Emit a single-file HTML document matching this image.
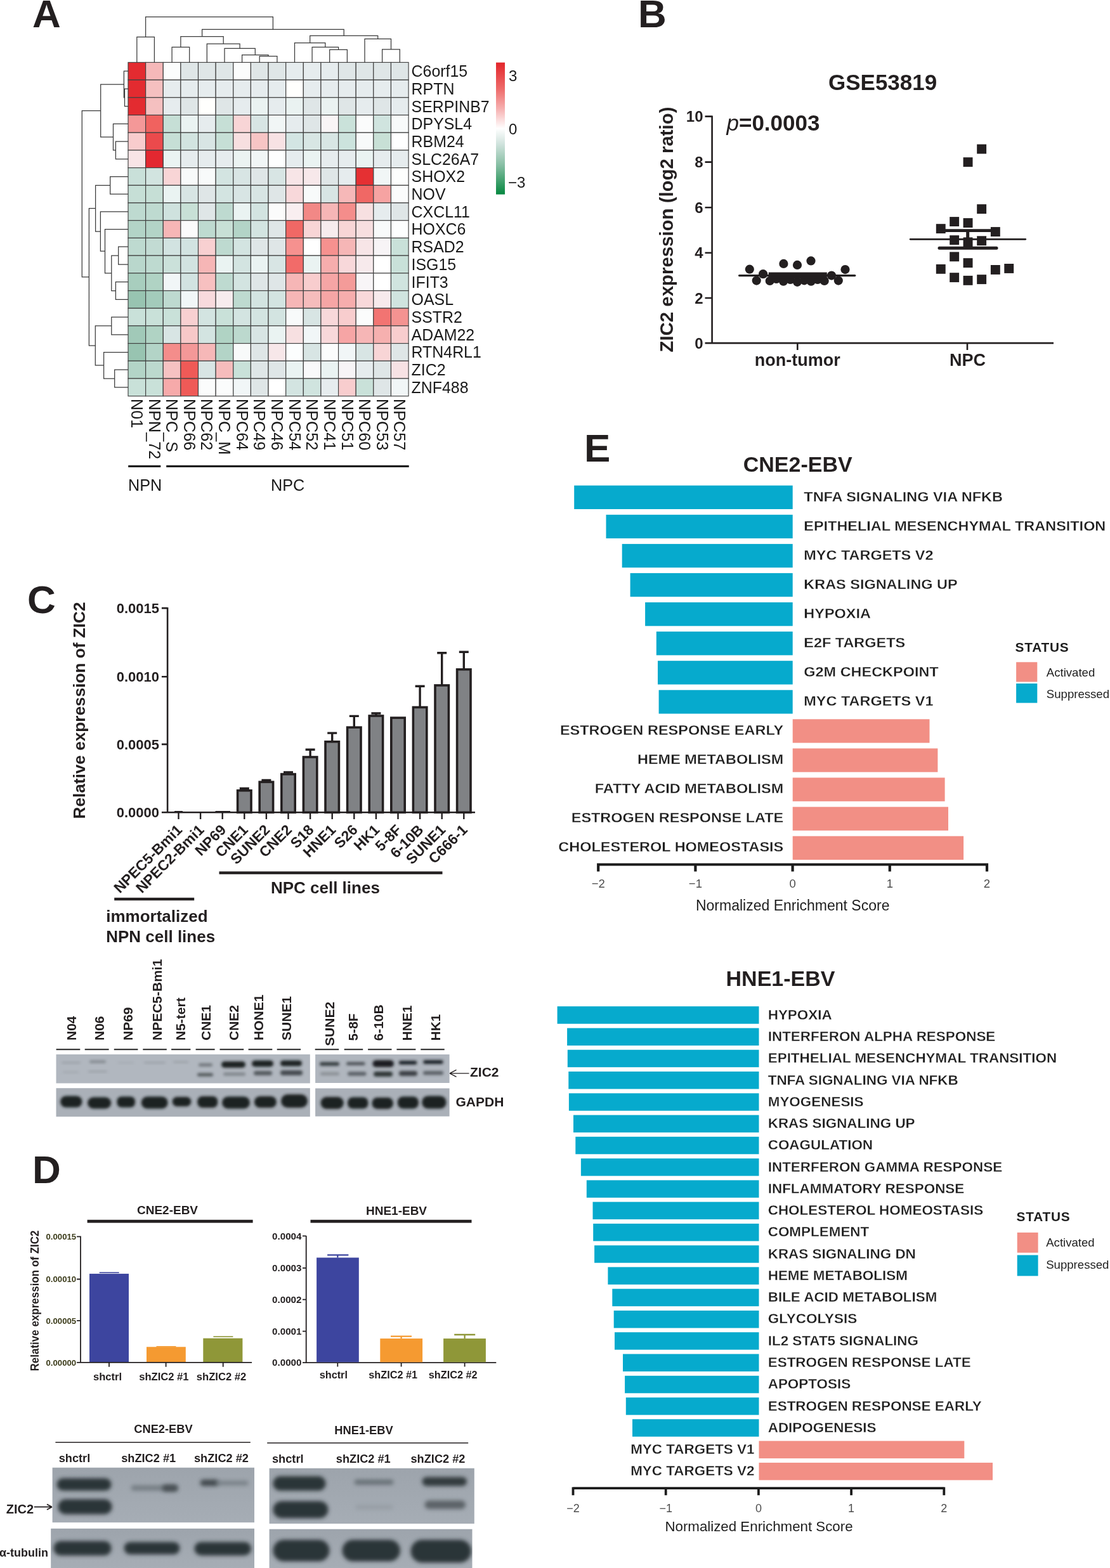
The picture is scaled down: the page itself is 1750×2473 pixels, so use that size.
<!DOCTYPE html>
<html><head><meta charset="utf-8"><title>Figure</title>
<style>html,body{margin:0;padding:0;background:#fff;}svg{display:block;}
text{font-family:"Liberation Sans", Arial, Helvetica, sans-serif;}</style></head><body>
<svg width="1750" height="2473" viewBox="0 0 1750 2473">
<rect x="0" y="0" width="1750" height="2473" fill="#ffffff"/>
<g id="A">
<text x="51.0" y="42.5" font-size="62" font-weight="bold" text-anchor="start" fill="#231f20" >A</text>
<rect x="202.00" y="98.40" width="27.63" height="27.70" fill="#e32b30" stroke="#404040" stroke-width="1.15"/>
<rect x="229.63" y="98.40" width="27.63" height="27.70" fill="#f5b8b9" stroke="#404040" stroke-width="1.15"/>
<rect x="257.26" y="98.40" width="27.63" height="27.70" fill="#fbfcfc" stroke="#404040" stroke-width="1.15"/>
<rect x="284.89" y="98.40" width="27.63" height="27.70" fill="#dfe6e7" stroke="#404040" stroke-width="1.15"/>
<rect x="312.52" y="98.40" width="27.63" height="27.70" fill="#dfe6e7" stroke="#404040" stroke-width="1.15"/>
<rect x="340.15" y="98.40" width="27.63" height="27.70" fill="#dfe6e7" stroke="#404040" stroke-width="1.15"/>
<rect x="367.78" y="98.40" width="27.63" height="27.70" fill="#fbfcfc" stroke="#404040" stroke-width="1.15"/>
<rect x="395.41" y="98.40" width="27.63" height="27.70" fill="#dfe6e7" stroke="#404040" stroke-width="1.15"/>
<rect x="423.04" y="98.40" width="27.63" height="27.70" fill="#dfe6e7" stroke="#404040" stroke-width="1.15"/>
<rect x="450.67" y="98.40" width="27.63" height="27.70" fill="#e6ecee" stroke="#404040" stroke-width="1.15"/>
<rect x="478.30" y="98.40" width="27.63" height="27.70" fill="#e6ecee" stroke="#404040" stroke-width="1.15"/>
<rect x="505.93" y="98.40" width="27.63" height="27.70" fill="#e6ecee" stroke="#404040" stroke-width="1.15"/>
<rect x="533.56" y="98.40" width="27.63" height="27.70" fill="#dfe6e7" stroke="#404040" stroke-width="1.15"/>
<rect x="561.19" y="98.40" width="27.63" height="27.70" fill="#dfe6e7" stroke="#404040" stroke-width="1.15"/>
<rect x="588.82" y="98.40" width="27.63" height="27.70" fill="#dfe6e7" stroke="#404040" stroke-width="1.15"/>
<rect x="616.45" y="98.40" width="27.63" height="27.70" fill="#dfe6e7" stroke="#404040" stroke-width="1.15"/>
<rect x="202.00" y="126.10" width="27.63" height="27.70" fill="#e32b30" stroke="#404040" stroke-width="1.15"/>
<rect x="229.63" y="126.10" width="27.63" height="27.70" fill="#f5c0c0" stroke="#404040" stroke-width="1.15"/>
<rect x="257.26" y="126.10" width="27.63" height="27.70" fill="#e6ecee" stroke="#404040" stroke-width="1.15"/>
<rect x="284.89" y="126.10" width="27.63" height="27.70" fill="#e6ecee" stroke="#404040" stroke-width="1.15"/>
<rect x="312.52" y="126.10" width="27.63" height="27.70" fill="#e6ecee" stroke="#404040" stroke-width="1.15"/>
<rect x="340.15" y="126.10" width="27.63" height="27.70" fill="#e6ecee" stroke="#404040" stroke-width="1.15"/>
<rect x="367.78" y="126.10" width="27.63" height="27.70" fill="#e6ecee" stroke="#404040" stroke-width="1.15"/>
<rect x="395.41" y="126.10" width="27.63" height="27.70" fill="#e6ecee" stroke="#404040" stroke-width="1.15"/>
<rect x="423.04" y="126.10" width="27.63" height="27.70" fill="#e6ecee" stroke="#404040" stroke-width="1.15"/>
<rect x="450.67" y="126.10" width="27.63" height="27.70" fill="#fffffd" stroke="#404040" stroke-width="1.15"/>
<rect x="478.30" y="126.10" width="27.63" height="27.70" fill="#e6ecee" stroke="#404040" stroke-width="1.15"/>
<rect x="505.93" y="126.10" width="27.63" height="27.70" fill="#e6ecee" stroke="#404040" stroke-width="1.15"/>
<rect x="533.56" y="126.10" width="27.63" height="27.70" fill="#e6ecee" stroke="#404040" stroke-width="1.15"/>
<rect x="561.19" y="126.10" width="27.63" height="27.70" fill="#e6ecee" stroke="#404040" stroke-width="1.15"/>
<rect x="588.82" y="126.10" width="27.63" height="27.70" fill="#e6ecee" stroke="#404040" stroke-width="1.15"/>
<rect x="616.45" y="126.10" width="27.63" height="27.70" fill="#e6ecee" stroke="#404040" stroke-width="1.15"/>
<rect x="202.00" y="153.80" width="27.63" height="27.70" fill="#e32b30" stroke="#404040" stroke-width="1.15"/>
<rect x="229.63" y="153.80" width="27.63" height="27.70" fill="#f5c0c0" stroke="#404040" stroke-width="1.15"/>
<rect x="257.26" y="153.80" width="27.63" height="27.70" fill="#e6ecee" stroke="#404040" stroke-width="1.15"/>
<rect x="284.89" y="153.80" width="27.63" height="27.70" fill="#dfe6e7" stroke="#404040" stroke-width="1.15"/>
<rect x="312.52" y="153.80" width="27.63" height="27.70" fill="#fffffd" stroke="#404040" stroke-width="1.15"/>
<rect x="340.15" y="153.80" width="27.63" height="27.70" fill="#dfe6e7" stroke="#404040" stroke-width="1.15"/>
<rect x="367.78" y="153.80" width="27.63" height="27.70" fill="#e6ecee" stroke="#404040" stroke-width="1.15"/>
<rect x="395.41" y="153.80" width="27.63" height="27.70" fill="#eaf2f1" stroke="#404040" stroke-width="1.15"/>
<rect x="423.04" y="153.80" width="27.63" height="27.70" fill="#e6ecee" stroke="#404040" stroke-width="1.15"/>
<rect x="450.67" y="153.80" width="27.63" height="27.70" fill="#eaf2f1" stroke="#404040" stroke-width="1.15"/>
<rect x="478.30" y="153.80" width="27.63" height="27.70" fill="#dfe6e7" stroke="#404040" stroke-width="1.15"/>
<rect x="505.93" y="153.80" width="27.63" height="27.70" fill="#eaf2f1" stroke="#404040" stroke-width="1.15"/>
<rect x="533.56" y="153.80" width="27.63" height="27.70" fill="#dfe6e7" stroke="#404040" stroke-width="1.15"/>
<rect x="561.19" y="153.80" width="27.63" height="27.70" fill="#e6ecee" stroke="#404040" stroke-width="1.15"/>
<rect x="588.82" y="153.80" width="27.63" height="27.70" fill="#dfe6e7" stroke="#404040" stroke-width="1.15"/>
<rect x="616.45" y="153.80" width="27.63" height="27.70" fill="#e6ecee" stroke="#404040" stroke-width="1.15"/>
<rect x="202.00" y="181.50" width="27.63" height="27.70" fill="#f49898" stroke="#404040" stroke-width="1.15"/>
<rect x="229.63" y="181.50" width="27.63" height="27.70" fill="#f0625f" stroke="#404040" stroke-width="1.15"/>
<rect x="257.26" y="181.50" width="27.63" height="27.70" fill="#c6dfd6" stroke="#404040" stroke-width="1.15"/>
<rect x="284.89" y="181.50" width="27.63" height="27.70" fill="#eaf3f2" stroke="#404040" stroke-width="1.15"/>
<rect x="312.52" y="181.50" width="27.63" height="27.70" fill="#e6ecee" stroke="#404040" stroke-width="1.15"/>
<rect x="340.15" y="181.50" width="27.63" height="27.70" fill="#c6dfd6" stroke="#404040" stroke-width="1.15"/>
<rect x="367.78" y="181.50" width="27.63" height="27.70" fill="#f8d5d6" stroke="#404040" stroke-width="1.15"/>
<rect x="395.41" y="181.50" width="27.63" height="27.70" fill="#d8e5e4" stroke="#404040" stroke-width="1.15"/>
<rect x="423.04" y="181.50" width="27.63" height="27.70" fill="#f1f6f6" stroke="#404040" stroke-width="1.15"/>
<rect x="450.67" y="181.50" width="27.63" height="27.70" fill="#e6ecee" stroke="#404040" stroke-width="1.15"/>
<rect x="478.30" y="181.50" width="27.63" height="27.70" fill="#dfe6e7" stroke="#404040" stroke-width="1.15"/>
<rect x="505.93" y="181.50" width="27.63" height="27.70" fill="#f9f5f6" stroke="#404040" stroke-width="1.15"/>
<rect x="533.56" y="181.50" width="27.63" height="27.70" fill="#cae2da" stroke="#404040" stroke-width="1.15"/>
<rect x="561.19" y="181.50" width="27.63" height="27.70" fill="#fbfcfc" stroke="#404040" stroke-width="1.15"/>
<rect x="588.82" y="181.50" width="27.63" height="27.70" fill="#d0e4df" stroke="#404040" stroke-width="1.15"/>
<rect x="616.45" y="181.50" width="27.63" height="27.70" fill="#f8fafa" stroke="#404040" stroke-width="1.15"/>
<rect x="202.00" y="209.20" width="27.63" height="27.70" fill="#f8cccd" stroke="#404040" stroke-width="1.15"/>
<rect x="229.63" y="209.20" width="27.63" height="27.70" fill="#eb4a4c" stroke="#404040" stroke-width="1.15"/>
<rect x="257.26" y="209.20" width="27.63" height="27.70" fill="#c6dfd6" stroke="#404040" stroke-width="1.15"/>
<rect x="284.89" y="209.20" width="27.63" height="27.70" fill="#d2e4e0" stroke="#404040" stroke-width="1.15"/>
<rect x="312.52" y="209.20" width="27.63" height="27.70" fill="#d8e5e4" stroke="#404040" stroke-width="1.15"/>
<rect x="340.15" y="209.20" width="27.63" height="27.70" fill="#c6dfd6" stroke="#404040" stroke-width="1.15"/>
<rect x="367.78" y="209.20" width="27.63" height="27.70" fill="#f7dfe0" stroke="#404040" stroke-width="1.15"/>
<rect x="395.41" y="209.20" width="27.63" height="27.70" fill="#f7c5c5" stroke="#404040" stroke-width="1.15"/>
<rect x="423.04" y="209.20" width="27.63" height="27.70" fill="#f7e2e4" stroke="#404040" stroke-width="1.15"/>
<rect x="450.67" y="209.20" width="27.63" height="27.70" fill="#d3e5e3" stroke="#404040" stroke-width="1.15"/>
<rect x="478.30" y="209.20" width="27.63" height="27.70" fill="#d8e6e4" stroke="#404040" stroke-width="1.15"/>
<rect x="505.93" y="209.20" width="27.63" height="27.70" fill="#d8e6e4" stroke="#404040" stroke-width="1.15"/>
<rect x="533.56" y="209.20" width="27.63" height="27.70" fill="#cce3dd" stroke="#404040" stroke-width="1.15"/>
<rect x="561.19" y="209.20" width="27.63" height="27.70" fill="#f8fafa" stroke="#404040" stroke-width="1.15"/>
<rect x="588.82" y="209.20" width="27.63" height="27.70" fill="#c8e0d6" stroke="#404040" stroke-width="1.15"/>
<rect x="616.45" y="209.20" width="27.63" height="27.70" fill="#ffffff" stroke="#404040" stroke-width="1.15"/>
<rect x="202.00" y="236.90" width="27.63" height="27.70" fill="#f8e4e6" stroke="#404040" stroke-width="1.15"/>
<rect x="229.63" y="236.90" width="27.63" height="27.70" fill="#e32830" stroke="#404040" stroke-width="1.15"/>
<rect x="257.26" y="236.90" width="27.63" height="27.70" fill="#eaf3f2" stroke="#404040" stroke-width="1.15"/>
<rect x="284.89" y="236.90" width="27.63" height="27.70" fill="#e6ecee" stroke="#404040" stroke-width="1.15"/>
<rect x="312.52" y="236.90" width="27.63" height="27.70" fill="#e6ecee" stroke="#404040" stroke-width="1.15"/>
<rect x="340.15" y="236.90" width="27.63" height="27.70" fill="#e6ecee" stroke="#404040" stroke-width="1.15"/>
<rect x="367.78" y="236.90" width="27.63" height="27.70" fill="#ebf3f2" stroke="#404040" stroke-width="1.15"/>
<rect x="395.41" y="236.90" width="27.63" height="27.70" fill="#f1f6f6" stroke="#404040" stroke-width="1.15"/>
<rect x="423.04" y="236.90" width="27.63" height="27.70" fill="#fdfefe" stroke="#404040" stroke-width="1.15"/>
<rect x="450.67" y="236.90" width="27.63" height="27.70" fill="#e6ecee" stroke="#404040" stroke-width="1.15"/>
<rect x="478.30" y="236.90" width="27.63" height="27.70" fill="#eaf3f2" stroke="#404040" stroke-width="1.15"/>
<rect x="505.93" y="236.90" width="27.63" height="27.70" fill="#e6ecee" stroke="#404040" stroke-width="1.15"/>
<rect x="533.56" y="236.90" width="27.63" height="27.70" fill="#e6ecee" stroke="#404040" stroke-width="1.15"/>
<rect x="561.19" y="236.90" width="27.63" height="27.70" fill="#eaf3f2" stroke="#404040" stroke-width="1.15"/>
<rect x="588.82" y="236.90" width="27.63" height="27.70" fill="#e6ecee" stroke="#404040" stroke-width="1.15"/>
<rect x="616.45" y="236.90" width="27.63" height="27.70" fill="#e6ecee" stroke="#404040" stroke-width="1.15"/>
<rect x="202.00" y="264.60" width="27.63" height="27.70" fill="#c9e0d9" stroke="#404040" stroke-width="1.15"/>
<rect x="229.63" y="264.60" width="27.63" height="27.70" fill="#d2e4e0" stroke="#404040" stroke-width="1.15"/>
<rect x="257.26" y="264.60" width="27.63" height="27.70" fill="#f8d5d6" stroke="#404040" stroke-width="1.15"/>
<rect x="284.89" y="264.60" width="27.63" height="27.70" fill="#f8fafa" stroke="#404040" stroke-width="1.15"/>
<rect x="312.52" y="264.60" width="27.63" height="27.70" fill="#f8fafa" stroke="#404040" stroke-width="1.15"/>
<rect x="340.15" y="264.60" width="27.63" height="27.70" fill="#d3e4e1" stroke="#404040" stroke-width="1.15"/>
<rect x="367.78" y="264.60" width="27.63" height="27.70" fill="#d8e5e4" stroke="#404040" stroke-width="1.15"/>
<rect x="395.41" y="264.60" width="27.63" height="27.70" fill="#dfe6e7" stroke="#404040" stroke-width="1.15"/>
<rect x="423.04" y="264.60" width="27.63" height="27.70" fill="#d8e5e4" stroke="#404040" stroke-width="1.15"/>
<rect x="450.67" y="264.60" width="27.63" height="27.70" fill="#f7e5e7" stroke="#404040" stroke-width="1.15"/>
<rect x="478.30" y="264.60" width="27.63" height="27.70" fill="#f7e8ea" stroke="#404040" stroke-width="1.15"/>
<rect x="505.93" y="264.60" width="27.63" height="27.70" fill="#dfe6e7" stroke="#404040" stroke-width="1.15"/>
<rect x="533.56" y="264.60" width="27.63" height="27.70" fill="#e6ecee" stroke="#404040" stroke-width="1.15"/>
<rect x="561.19" y="264.60" width="27.63" height="27.70" fill="#e53033" stroke="#404040" stroke-width="1.15"/>
<rect x="588.82" y="264.60" width="27.63" height="27.70" fill="#f1f6f6" stroke="#404040" stroke-width="1.15"/>
<rect x="616.45" y="264.60" width="27.63" height="27.70" fill="#fdfefd" stroke="#404040" stroke-width="1.15"/>
<rect x="202.00" y="292.30" width="27.63" height="27.70" fill="#c6dfd6" stroke="#404040" stroke-width="1.15"/>
<rect x="229.63" y="292.30" width="27.63" height="27.70" fill="#c6dfd6" stroke="#404040" stroke-width="1.15"/>
<rect x="257.26" y="292.30" width="27.63" height="27.70" fill="#eaf3f2" stroke="#404040" stroke-width="1.15"/>
<rect x="284.89" y="292.30" width="27.63" height="27.70" fill="#d8e5e4" stroke="#404040" stroke-width="1.15"/>
<rect x="312.52" y="292.30" width="27.63" height="27.70" fill="#dfe6e7" stroke="#404040" stroke-width="1.15"/>
<rect x="340.15" y="292.30" width="27.63" height="27.70" fill="#d3e4e1" stroke="#404040" stroke-width="1.15"/>
<rect x="367.78" y="292.30" width="27.63" height="27.70" fill="#d8e5e4" stroke="#404040" stroke-width="1.15"/>
<rect x="395.41" y="292.30" width="27.63" height="27.70" fill="#d8e5e4" stroke="#404040" stroke-width="1.15"/>
<rect x="423.04" y="292.30" width="27.63" height="27.70" fill="#dfe6e7" stroke="#404040" stroke-width="1.15"/>
<rect x="450.67" y="292.30" width="27.63" height="27.70" fill="#f8d8da" stroke="#404040" stroke-width="1.15"/>
<rect x="478.30" y="292.30" width="27.63" height="27.70" fill="#f8fafa" stroke="#404040" stroke-width="1.15"/>
<rect x="505.93" y="292.30" width="27.63" height="27.70" fill="#d8e5e4" stroke="#404040" stroke-width="1.15"/>
<rect x="533.56" y="292.30" width="27.63" height="27.70" fill="#f6b8b8" stroke="#404040" stroke-width="1.15"/>
<rect x="561.19" y="292.30" width="27.63" height="27.70" fill="#f06865" stroke="#404040" stroke-width="1.15"/>
<rect x="588.82" y="292.30" width="27.63" height="27.70" fill="#f6a3a2" stroke="#404040" stroke-width="1.15"/>
<rect x="616.45" y="292.30" width="27.63" height="27.70" fill="#fbfcfc" stroke="#404040" stroke-width="1.15"/>
<rect x="202.00" y="320.00" width="27.63" height="27.70" fill="#bedad0" stroke="#404040" stroke-width="1.15"/>
<rect x="229.63" y="320.00" width="27.63" height="27.70" fill="#bedad0" stroke="#404040" stroke-width="1.15"/>
<rect x="257.26" y="320.00" width="27.63" height="27.70" fill="#cfe2de" stroke="#404040" stroke-width="1.15"/>
<rect x="284.89" y="320.00" width="27.63" height="27.70" fill="#c8e0d6" stroke="#404040" stroke-width="1.15"/>
<rect x="312.52" y="320.00" width="27.63" height="27.70" fill="#dfe6e7" stroke="#404040" stroke-width="1.15"/>
<rect x="340.15" y="320.00" width="27.63" height="27.70" fill="#bedad0" stroke="#404040" stroke-width="1.15"/>
<rect x="367.78" y="320.00" width="27.63" height="27.70" fill="#eaf3f2" stroke="#404040" stroke-width="1.15"/>
<rect x="395.41" y="320.00" width="27.63" height="27.70" fill="#d3e4e1" stroke="#404040" stroke-width="1.15"/>
<rect x="423.04" y="320.00" width="27.63" height="27.70" fill="#fbfbfb" stroke="#404040" stroke-width="1.15"/>
<rect x="450.67" y="320.00" width="27.63" height="27.70" fill="#f9eef0" stroke="#404040" stroke-width="1.15"/>
<rect x="478.30" y="320.00" width="27.63" height="27.70" fill="#f28886" stroke="#404040" stroke-width="1.15"/>
<rect x="505.93" y="320.00" width="27.63" height="27.70" fill="#f6b6b6" stroke="#404040" stroke-width="1.15"/>
<rect x="533.56" y="320.00" width="27.63" height="27.70" fill="#f48d8b" stroke="#404040" stroke-width="1.15"/>
<rect x="561.19" y="320.00" width="27.63" height="27.70" fill="#f7e0e1" stroke="#404040" stroke-width="1.15"/>
<rect x="588.82" y="320.00" width="27.63" height="27.70" fill="#e6ecee" stroke="#404040" stroke-width="1.15"/>
<rect x="616.45" y="320.00" width="27.63" height="27.70" fill="#dfe6e7" stroke="#404040" stroke-width="1.15"/>
<rect x="202.00" y="347.70" width="27.63" height="27.70" fill="#b3d4c7" stroke="#404040" stroke-width="1.15"/>
<rect x="229.63" y="347.70" width="27.63" height="27.70" fill="#b3d4c7" stroke="#404040" stroke-width="1.15"/>
<rect x="257.26" y="347.70" width="27.63" height="27.70" fill="#f6b6b6" stroke="#404040" stroke-width="1.15"/>
<rect x="284.89" y="347.70" width="27.63" height="27.70" fill="#fbfbfb" stroke="#404040" stroke-width="1.15"/>
<rect x="312.52" y="347.70" width="27.63" height="27.70" fill="#bedad0" stroke="#404040" stroke-width="1.15"/>
<rect x="340.15" y="347.70" width="27.63" height="27.70" fill="#c8e0d6" stroke="#404040" stroke-width="1.15"/>
<rect x="367.78" y="347.70" width="27.63" height="27.70" fill="#b3d4c7" stroke="#404040" stroke-width="1.15"/>
<rect x="395.41" y="347.70" width="27.63" height="27.70" fill="#d3e4e1" stroke="#404040" stroke-width="1.15"/>
<rect x="423.04" y="347.70" width="27.63" height="27.70" fill="#dfe6e7" stroke="#404040" stroke-width="1.15"/>
<rect x="450.67" y="347.70" width="27.63" height="27.70" fill="#f06865" stroke="#404040" stroke-width="1.15"/>
<rect x="478.30" y="347.70" width="27.63" height="27.70" fill="#f8d5d6" stroke="#404040" stroke-width="1.15"/>
<rect x="505.93" y="347.70" width="27.63" height="27.70" fill="#f7ecee" stroke="#404040" stroke-width="1.15"/>
<rect x="533.56" y="347.70" width="27.63" height="27.70" fill="#f8d5d6" stroke="#404040" stroke-width="1.15"/>
<rect x="561.19" y="347.70" width="27.63" height="27.70" fill="#f7dfe0" stroke="#404040" stroke-width="1.15"/>
<rect x="588.82" y="347.70" width="27.63" height="27.70" fill="#f8fafa" stroke="#404040" stroke-width="1.15"/>
<rect x="616.45" y="347.70" width="27.63" height="27.70" fill="#fdfefe" stroke="#404040" stroke-width="1.15"/>
<rect x="202.00" y="375.40" width="27.63" height="27.70" fill="#bedad0" stroke="#404040" stroke-width="1.15"/>
<rect x="229.63" y="375.40" width="27.63" height="27.70" fill="#c2dbd3" stroke="#404040" stroke-width="1.15"/>
<rect x="257.26" y="375.40" width="27.63" height="27.70" fill="#d2e3e1" stroke="#404040" stroke-width="1.15"/>
<rect x="284.89" y="375.40" width="27.63" height="27.70" fill="#d2e3e1" stroke="#404040" stroke-width="1.15"/>
<rect x="312.52" y="375.40" width="27.63" height="27.70" fill="#f8d0d1" stroke="#404040" stroke-width="1.15"/>
<rect x="340.15" y="375.40" width="27.63" height="27.70" fill="#bedad0" stroke="#404040" stroke-width="1.15"/>
<rect x="367.78" y="375.40" width="27.63" height="27.70" fill="#d3e4e1" stroke="#404040" stroke-width="1.15"/>
<rect x="395.41" y="375.40" width="27.63" height="27.70" fill="#dfe6e7" stroke="#404040" stroke-width="1.15"/>
<rect x="423.04" y="375.40" width="27.63" height="27.70" fill="#dfe6e7" stroke="#404040" stroke-width="1.15"/>
<rect x="450.67" y="375.40" width="27.63" height="27.70" fill="#f6918f" stroke="#404040" stroke-width="1.15"/>
<rect x="478.30" y="375.40" width="27.63" height="27.70" fill="#ffffff" stroke="#404040" stroke-width="1.15"/>
<rect x="505.93" y="375.40" width="27.63" height="27.70" fill="#f6918f" stroke="#404040" stroke-width="1.15"/>
<rect x="533.56" y="375.40" width="27.63" height="27.70" fill="#f6b6b6" stroke="#404040" stroke-width="1.15"/>
<rect x="561.19" y="375.40" width="27.63" height="27.70" fill="#f7e5e7" stroke="#404040" stroke-width="1.15"/>
<rect x="588.82" y="375.40" width="27.63" height="27.70" fill="#f7f4f6" stroke="#404040" stroke-width="1.15"/>
<rect x="616.45" y="375.40" width="27.63" height="27.70" fill="#c9e1d9" stroke="#404040" stroke-width="1.15"/>
<rect x="202.00" y="403.10" width="27.63" height="27.70" fill="#b9d7cc" stroke="#404040" stroke-width="1.15"/>
<rect x="229.63" y="403.10" width="27.63" height="27.70" fill="#bedad0" stroke="#404040" stroke-width="1.15"/>
<rect x="257.26" y="403.10" width="27.63" height="27.70" fill="#cbe1da" stroke="#404040" stroke-width="1.15"/>
<rect x="284.89" y="403.10" width="27.63" height="27.70" fill="#d2e3e1" stroke="#404040" stroke-width="1.15"/>
<rect x="312.52" y="403.10" width="27.63" height="27.70" fill="#f6b6b6" stroke="#404040" stroke-width="1.15"/>
<rect x="340.15" y="403.10" width="27.63" height="27.70" fill="#eaf3f2" stroke="#404040" stroke-width="1.15"/>
<rect x="367.78" y="403.10" width="27.63" height="27.70" fill="#d3e4e1" stroke="#404040" stroke-width="1.15"/>
<rect x="395.41" y="403.10" width="27.63" height="27.70" fill="#eaf3f2" stroke="#404040" stroke-width="1.15"/>
<rect x="423.04" y="403.10" width="27.63" height="27.70" fill="#d8e5e4" stroke="#404040" stroke-width="1.15"/>
<rect x="450.67" y="403.10" width="27.63" height="27.70" fill="#f26b69" stroke="#404040" stroke-width="1.15"/>
<rect x="478.30" y="403.10" width="27.63" height="27.70" fill="#eaf3f2" stroke="#404040" stroke-width="1.15"/>
<rect x="505.93" y="403.10" width="27.63" height="27.70" fill="#f6adad" stroke="#404040" stroke-width="1.15"/>
<rect x="533.56" y="403.10" width="27.63" height="27.70" fill="#f8d8da" stroke="#404040" stroke-width="1.15"/>
<rect x="561.19" y="403.10" width="27.63" height="27.70" fill="#f7eaec" stroke="#404040" stroke-width="1.15"/>
<rect x="588.82" y="403.10" width="27.63" height="27.70" fill="#ffffff" stroke="#404040" stroke-width="1.15"/>
<rect x="616.45" y="403.10" width="27.63" height="27.70" fill="#c9e1d9" stroke="#404040" stroke-width="1.15"/>
<rect x="202.00" y="430.80" width="27.63" height="27.70" fill="#a8cebe" stroke="#404040" stroke-width="1.15"/>
<rect x="229.63" y="430.80" width="27.63" height="27.70" fill="#b0d3c4" stroke="#404040" stroke-width="1.15"/>
<rect x="257.26" y="430.80" width="27.63" height="27.70" fill="#f1f6f7" stroke="#404040" stroke-width="1.15"/>
<rect x="284.89" y="430.80" width="27.63" height="27.70" fill="#d2e3e1" stroke="#404040" stroke-width="1.15"/>
<rect x="312.52" y="430.80" width="27.63" height="27.70" fill="#f7c0c0" stroke="#404040" stroke-width="1.15"/>
<rect x="340.15" y="430.80" width="27.63" height="27.70" fill="#bedad0" stroke="#404040" stroke-width="1.15"/>
<rect x="367.78" y="430.80" width="27.63" height="27.70" fill="#d3e4e1" stroke="#404040" stroke-width="1.15"/>
<rect x="395.41" y="430.80" width="27.63" height="27.70" fill="#dfe6e7" stroke="#404040" stroke-width="1.15"/>
<rect x="423.04" y="430.80" width="27.63" height="27.70" fill="#dfe6e7" stroke="#404040" stroke-width="1.15"/>
<rect x="450.67" y="430.80" width="27.63" height="27.70" fill="#f6b6b6" stroke="#404040" stroke-width="1.15"/>
<rect x="478.30" y="430.80" width="27.63" height="27.70" fill="#f8cdce" stroke="#404040" stroke-width="1.15"/>
<rect x="505.93" y="430.80" width="27.63" height="27.70" fill="#f6a5a5" stroke="#404040" stroke-width="1.15"/>
<rect x="533.56" y="430.80" width="27.63" height="27.70" fill="#f49b99" stroke="#404040" stroke-width="1.15"/>
<rect x="561.19" y="430.80" width="27.63" height="27.70" fill="#f8f5f7" stroke="#404040" stroke-width="1.15"/>
<rect x="588.82" y="430.80" width="27.63" height="27.70" fill="#ffffff" stroke="#404040" stroke-width="1.15"/>
<rect x="616.45" y="430.80" width="27.63" height="27.70" fill="#d0e4df" stroke="#404040" stroke-width="1.15"/>
<rect x="202.00" y="458.50" width="27.63" height="27.70" fill="#98c4b1" stroke="#404040" stroke-width="1.15"/>
<rect x="229.63" y="458.50" width="27.63" height="27.70" fill="#a3cbbb" stroke="#404040" stroke-width="1.15"/>
<rect x="257.26" y="458.50" width="27.63" height="27.70" fill="#bedad0" stroke="#404040" stroke-width="1.15"/>
<rect x="284.89" y="458.50" width="27.63" height="27.70" fill="#f1f6f7" stroke="#404040" stroke-width="1.15"/>
<rect x="312.52" y="458.50" width="27.63" height="27.70" fill="#f8dadd" stroke="#404040" stroke-width="1.15"/>
<rect x="340.15" y="458.50" width="27.63" height="27.70" fill="#f7ecee" stroke="#404040" stroke-width="1.15"/>
<rect x="367.78" y="458.50" width="27.63" height="27.70" fill="#bedad0" stroke="#404040" stroke-width="1.15"/>
<rect x="395.41" y="458.50" width="27.63" height="27.70" fill="#d3e4e1" stroke="#404040" stroke-width="1.15"/>
<rect x="423.04" y="458.50" width="27.63" height="27.70" fill="#d3e4e1" stroke="#404040" stroke-width="1.15"/>
<rect x="450.67" y="458.50" width="27.63" height="27.70" fill="#f6b6b6" stroke="#404040" stroke-width="1.15"/>
<rect x="478.30" y="458.50" width="27.63" height="27.70" fill="#f6bcbc" stroke="#404040" stroke-width="1.15"/>
<rect x="505.93" y="458.50" width="27.63" height="27.70" fill="#f6a5a5" stroke="#404040" stroke-width="1.15"/>
<rect x="533.56" y="458.50" width="27.63" height="27.70" fill="#f6adad" stroke="#404040" stroke-width="1.15"/>
<rect x="561.19" y="458.50" width="27.63" height="27.70" fill="#f8d8da" stroke="#404040" stroke-width="1.15"/>
<rect x="588.82" y="458.50" width="27.63" height="27.70" fill="#f7eaec" stroke="#404040" stroke-width="1.15"/>
<rect x="616.45" y="458.50" width="27.63" height="27.70" fill="#d0e4df" stroke="#404040" stroke-width="1.15"/>
<rect x="202.00" y="486.20" width="27.63" height="27.70" fill="#c9e1d9" stroke="#404040" stroke-width="1.15"/>
<rect x="229.63" y="486.20" width="27.63" height="27.70" fill="#c9e1d9" stroke="#404040" stroke-width="1.15"/>
<rect x="257.26" y="486.20" width="27.63" height="27.70" fill="#c9e1d9" stroke="#404040" stroke-width="1.15"/>
<rect x="284.89" y="486.20" width="27.63" height="27.70" fill="#f8d0d1" stroke="#404040" stroke-width="1.15"/>
<rect x="312.52" y="486.20" width="27.63" height="27.70" fill="#d3e4e1" stroke="#404040" stroke-width="1.15"/>
<rect x="340.15" y="486.20" width="27.63" height="27.70" fill="#c9e1d9" stroke="#404040" stroke-width="1.15"/>
<rect x="367.78" y="486.20" width="27.63" height="27.70" fill="#d3e4e1" stroke="#404040" stroke-width="1.15"/>
<rect x="395.41" y="486.20" width="27.63" height="27.70" fill="#d3e4e1" stroke="#404040" stroke-width="1.15"/>
<rect x="423.04" y="486.20" width="27.63" height="27.70" fill="#d3e4e1" stroke="#404040" stroke-width="1.15"/>
<rect x="450.67" y="486.20" width="27.63" height="27.70" fill="#f8fafa" stroke="#404040" stroke-width="1.15"/>
<rect x="478.30" y="486.20" width="27.63" height="27.70" fill="#d8e5e4" stroke="#404040" stroke-width="1.15"/>
<rect x="505.93" y="486.20" width="27.63" height="27.70" fill="#f8d8da" stroke="#404040" stroke-width="1.15"/>
<rect x="533.56" y="486.20" width="27.63" height="27.70" fill="#f8cdce" stroke="#404040" stroke-width="1.15"/>
<rect x="561.19" y="486.20" width="27.63" height="27.70" fill="#fbfcfc" stroke="#404040" stroke-width="1.15"/>
<rect x="588.82" y="486.20" width="27.63" height="27.70" fill="#f27472" stroke="#404040" stroke-width="1.15"/>
<rect x="616.45" y="486.20" width="27.63" height="27.70" fill="#f49391" stroke="#404040" stroke-width="1.15"/>
<rect x="202.00" y="513.90" width="27.63" height="27.70" fill="#a1c9b8" stroke="#404040" stroke-width="1.15"/>
<rect x="229.63" y="513.90" width="27.63" height="27.70" fill="#b0d3c4" stroke="#404040" stroke-width="1.15"/>
<rect x="257.26" y="513.90" width="27.63" height="27.70" fill="#d8e5e4" stroke="#404040" stroke-width="1.15"/>
<rect x="284.89" y="513.90" width="27.63" height="27.70" fill="#f7c8c8" stroke="#404040" stroke-width="1.15"/>
<rect x="312.52" y="513.90" width="27.63" height="27.70" fill="#d3e4e1" stroke="#404040" stroke-width="1.15"/>
<rect x="340.15" y="513.90" width="27.63" height="27.70" fill="#b0d3c4" stroke="#404040" stroke-width="1.15"/>
<rect x="367.78" y="513.90" width="27.63" height="27.70" fill="#bcd9ce" stroke="#404040" stroke-width="1.15"/>
<rect x="395.41" y="513.90" width="27.63" height="27.70" fill="#d8e5e4" stroke="#404040" stroke-width="1.15"/>
<rect x="423.04" y="513.90" width="27.63" height="27.70" fill="#eaf3f2" stroke="#404040" stroke-width="1.15"/>
<rect x="450.67" y="513.90" width="27.63" height="27.70" fill="#f7e0e1" stroke="#404040" stroke-width="1.15"/>
<rect x="478.30" y="513.90" width="27.63" height="27.70" fill="#f1f6f7" stroke="#404040" stroke-width="1.15"/>
<rect x="505.93" y="513.90" width="27.63" height="27.70" fill="#f8d8da" stroke="#404040" stroke-width="1.15"/>
<rect x="533.56" y="513.90" width="27.63" height="27.70" fill="#f6a5a5" stroke="#404040" stroke-width="1.15"/>
<rect x="561.19" y="513.90" width="27.63" height="27.70" fill="#f6b6b6" stroke="#404040" stroke-width="1.15"/>
<rect x="588.82" y="513.90" width="27.63" height="27.70" fill="#f6b0af" stroke="#404040" stroke-width="1.15"/>
<rect x="616.45" y="513.90" width="27.63" height="27.70" fill="#f8cdce" stroke="#404040" stroke-width="1.15"/>
<rect x="202.00" y="541.60" width="27.63" height="27.70" fill="#98c4b1" stroke="#404040" stroke-width="1.15"/>
<rect x="229.63" y="541.60" width="27.63" height="27.70" fill="#b3d4c7" stroke="#404040" stroke-width="1.15"/>
<rect x="257.26" y="541.60" width="27.63" height="27.70" fill="#f48d8b" stroke="#404040" stroke-width="1.15"/>
<rect x="284.89" y="541.60" width="27.63" height="27.70" fill="#f49898" stroke="#404040" stroke-width="1.15"/>
<rect x="312.52" y="541.60" width="27.63" height="27.70" fill="#f6b8b8" stroke="#404040" stroke-width="1.15"/>
<rect x="340.15" y="541.60" width="27.63" height="27.70" fill="#b3d4c7" stroke="#404040" stroke-width="1.15"/>
<rect x="367.78" y="541.60" width="27.63" height="27.70" fill="#f8fafa" stroke="#404040" stroke-width="1.15"/>
<rect x="395.41" y="541.60" width="27.63" height="27.70" fill="#dfe6e7" stroke="#404040" stroke-width="1.15"/>
<rect x="423.04" y="541.60" width="27.63" height="27.70" fill="#f7e7e9" stroke="#404040" stroke-width="1.15"/>
<rect x="450.67" y="541.60" width="27.63" height="27.70" fill="#fcfefe" stroke="#404040" stroke-width="1.15"/>
<rect x="478.30" y="541.60" width="27.63" height="27.70" fill="#d8e5e4" stroke="#404040" stroke-width="1.15"/>
<rect x="505.93" y="541.60" width="27.63" height="27.70" fill="#fbfcfc" stroke="#404040" stroke-width="1.15"/>
<rect x="533.56" y="541.60" width="27.63" height="27.70" fill="#f1f6f7" stroke="#404040" stroke-width="1.15"/>
<rect x="561.19" y="541.60" width="27.63" height="27.70" fill="#d8e5e4" stroke="#404040" stroke-width="1.15"/>
<rect x="588.82" y="541.60" width="27.63" height="27.70" fill="#f8d5d6" stroke="#404040" stroke-width="1.15"/>
<rect x="616.45" y="541.60" width="27.63" height="27.70" fill="#dfe6e7" stroke="#404040" stroke-width="1.15"/>
<rect x="202.00" y="569.30" width="27.63" height="27.70" fill="#b3d4c7" stroke="#404040" stroke-width="1.15"/>
<rect x="229.63" y="569.30" width="27.63" height="27.70" fill="#bcd9ce" stroke="#404040" stroke-width="1.15"/>
<rect x="257.26" y="569.30" width="27.63" height="27.70" fill="#f6c2c2" stroke="#404040" stroke-width="1.15"/>
<rect x="284.89" y="569.30" width="27.63" height="27.70" fill="#ef5a57" stroke="#404040" stroke-width="1.15"/>
<rect x="312.52" y="569.30" width="27.63" height="27.70" fill="#d8e5e4" stroke="#404040" stroke-width="1.15"/>
<rect x="340.15" y="569.30" width="27.63" height="27.70" fill="#f6bcbc" stroke="#404040" stroke-width="1.15"/>
<rect x="367.78" y="569.30" width="27.63" height="27.70" fill="#c9e1d9" stroke="#404040" stroke-width="1.15"/>
<rect x="395.41" y="569.30" width="27.63" height="27.70" fill="#dfe6e7" stroke="#404040" stroke-width="1.15"/>
<rect x="423.04" y="569.30" width="27.63" height="27.70" fill="#dfe6e7" stroke="#404040" stroke-width="1.15"/>
<rect x="450.67" y="569.30" width="27.63" height="27.70" fill="#eaf3f2" stroke="#404040" stroke-width="1.15"/>
<rect x="478.30" y="569.30" width="27.63" height="27.70" fill="#f9f9fa" stroke="#404040" stroke-width="1.15"/>
<rect x="505.93" y="569.30" width="27.63" height="27.70" fill="#eaf3f2" stroke="#404040" stroke-width="1.15"/>
<rect x="533.56" y="569.30" width="27.63" height="27.70" fill="#f7f4f6" stroke="#404040" stroke-width="1.15"/>
<rect x="561.19" y="569.30" width="27.63" height="27.70" fill="#e6ecee" stroke="#404040" stroke-width="1.15"/>
<rect x="588.82" y="569.30" width="27.63" height="27.70" fill="#dfe6e7" stroke="#404040" stroke-width="1.15"/>
<rect x="616.45" y="569.30" width="27.63" height="27.70" fill="#f7e2e4" stroke="#404040" stroke-width="1.15"/>
<rect x="202.00" y="597.00" width="27.63" height="27.70" fill="#c9e1d9" stroke="#404040" stroke-width="1.15"/>
<rect x="229.63" y="597.00" width="27.63" height="27.70" fill="#c9e1d9" stroke="#404040" stroke-width="1.15"/>
<rect x="257.26" y="597.00" width="27.63" height="27.70" fill="#f6aaaa" stroke="#404040" stroke-width="1.15"/>
<rect x="284.89" y="597.00" width="27.63" height="27.70" fill="#ef5a57" stroke="#404040" stroke-width="1.15"/>
<rect x="312.52" y="597.00" width="27.63" height="27.70" fill="#fbfcfc" stroke="#404040" stroke-width="1.15"/>
<rect x="340.15" y="597.00" width="27.63" height="27.70" fill="#fbfcfc" stroke="#404040" stroke-width="1.15"/>
<rect x="367.78" y="597.00" width="27.63" height="27.70" fill="#f1f6f7" stroke="#404040" stroke-width="1.15"/>
<rect x="395.41" y="597.00" width="27.63" height="27.70" fill="#dfe6e7" stroke="#404040" stroke-width="1.15"/>
<rect x="423.04" y="597.00" width="27.63" height="27.70" fill="#ffffff" stroke="#404040" stroke-width="1.15"/>
<rect x="450.67" y="597.00" width="27.63" height="27.70" fill="#d3e4e1" stroke="#404040" stroke-width="1.15"/>
<rect x="478.30" y="597.00" width="27.63" height="27.70" fill="#d0e4df" stroke="#404040" stroke-width="1.15"/>
<rect x="505.93" y="597.00" width="27.63" height="27.70" fill="#e6ecee" stroke="#404040" stroke-width="1.15"/>
<rect x="533.56" y="597.00" width="27.63" height="27.70" fill="#f8cdce" stroke="#404040" stroke-width="1.15"/>
<rect x="561.19" y="597.00" width="27.63" height="27.70" fill="#c9e1d9" stroke="#404040" stroke-width="1.15"/>
<rect x="588.82" y="597.00" width="27.63" height="27.70" fill="#dfe6e7" stroke="#404040" stroke-width="1.15"/>
<rect x="616.45" y="597.00" width="27.63" height="27.70" fill="#f1f6f7" stroke="#404040" stroke-width="1.15"/>
<text x="648.6" y="121.2" font-size="24.9" text-anchor="start" fill="#1a1a1a" >C6orf15</text>
<text x="648.6" y="148.9" font-size="24.9" text-anchor="start" fill="#1a1a1a" >RPTN</text>
<text x="648.6" y="176.6" font-size="24.9" text-anchor="start" fill="#1a1a1a" >SERPINB7</text>
<text x="648.6" y="204.2" font-size="24.9" text-anchor="start" fill="#1a1a1a" >DPYSL4</text>
<text x="648.6" y="231.9" font-size="24.9" text-anchor="start" fill="#1a1a1a" >RBM24</text>
<text x="648.6" y="259.6" font-size="24.9" text-anchor="start" fill="#1a1a1a" >SLC26A7</text>
<text x="648.6" y="287.4" font-size="24.9" text-anchor="start" fill="#1a1a1a" >SHOX2</text>
<text x="648.6" y="315.1" font-size="24.9" text-anchor="start" fill="#1a1a1a" >NOV</text>
<text x="648.6" y="342.8" font-size="24.9" text-anchor="start" fill="#1a1a1a" >CXCL11</text>
<text x="648.6" y="370.4" font-size="24.9" text-anchor="start" fill="#1a1a1a" >HOXC6</text>
<text x="648.6" y="398.1" font-size="24.9" text-anchor="start" fill="#1a1a1a" >RSAD2</text>
<text x="648.6" y="425.9" font-size="24.9" text-anchor="start" fill="#1a1a1a" >ISG15</text>
<text x="648.6" y="453.5" font-size="24.9" text-anchor="start" fill="#1a1a1a" >IFIT3</text>
<text x="648.6" y="481.2" font-size="24.9" text-anchor="start" fill="#1a1a1a" >OASL</text>
<text x="648.6" y="509.0" font-size="24.9" text-anchor="start" fill="#1a1a1a" >SSTR2</text>
<text x="648.6" y="536.6" font-size="24.9" text-anchor="start" fill="#1a1a1a" >ADAM22</text>
<text x="648.6" y="564.4" font-size="24.9" text-anchor="start" fill="#1a1a1a" >RTN4RL1</text>
<text x="648.6" y="592.0" font-size="24.9" text-anchor="start" fill="#1a1a1a" >ZIC2</text>
<text x="648.6" y="619.8" font-size="24.9" text-anchor="start" fill="#1a1a1a" >ZNF488</text>
<text transform="translate(206.9,630.5) rotate(90)" font-size="25.2" fill="#1a1a1a" dx="-1.5">N01</text>
<text transform="translate(234.5,630.5) rotate(90)" font-size="25.2" fill="#1a1a1a" dx="-1.5">NPN_72</text>
<text transform="translate(262.2,630.5) rotate(90)" font-size="25.2" fill="#1a1a1a" dx="-1.5">NPC_S</text>
<text transform="translate(289.8,630.5) rotate(90)" font-size="25.2" fill="#1a1a1a" dx="-1.5">NPC66</text>
<text transform="translate(317.4,630.5) rotate(90)" font-size="25.2" fill="#1a1a1a" dx="-1.5">NPC62</text>
<text transform="translate(345.1,630.5) rotate(90)" font-size="25.2" fill="#1a1a1a" dx="-1.5">NPC_M</text>
<text transform="translate(372.7,630.5) rotate(90)" font-size="25.2" fill="#1a1a1a" dx="-1.5">NPC64</text>
<text transform="translate(400.3,630.5) rotate(90)" font-size="25.2" fill="#1a1a1a" dx="-1.5">NPC49</text>
<text transform="translate(428.0,630.5) rotate(90)" font-size="25.2" fill="#1a1a1a" dx="-1.5">NPC46</text>
<text transform="translate(455.6,630.5) rotate(90)" font-size="25.2" fill="#1a1a1a" dx="-1.5">NPC54</text>
<text transform="translate(483.2,630.5) rotate(90)" font-size="25.2" fill="#1a1a1a" dx="-1.5">NPC52</text>
<text transform="translate(510.8,630.5) rotate(90)" font-size="25.2" fill="#1a1a1a" dx="-1.5">NPC41</text>
<text transform="translate(538.5,630.5) rotate(90)" font-size="25.2" fill="#1a1a1a" dx="-1.5">NPC51</text>
<text transform="translate(566.1,630.5) rotate(90)" font-size="25.2" fill="#1a1a1a" dx="-1.5">NPC60</text>
<text transform="translate(593.7,630.5) rotate(90)" font-size="25.2" fill="#1a1a1a" dx="-1.5">NPC53</text>
<text transform="translate(621.4,630.5) rotate(90)" font-size="25.2" fill="#1a1a1a" dx="-1.5">NPC57</text>
<rect x="202.2" y="733.8" width="51.1" height="3.2" fill="#1a1a1a"/>
<rect x="262.2" y="733.8" width="382.5" height="3.2" fill="#1a1a1a"/>
<text x="202.0" y="773.7" font-size="25.2" text-anchor="start" fill="#1a1a1a" >NPN</text>
<text x="453.6" y="773.7" font-size="25.2" text-anchor="middle" fill="#1a1a1a" >NPC</text>
<defs><linearGradient id="cb" x1="0" y1="0" x2="0" y2="1"><stop offset="0" stop-color="#e3262b"/><stop offset="0.2" stop-color="#ee6b6a"/><stop offset="0.35" stop-color="#f6b0b0"/><stop offset="0.5" stop-color="#ffffff"/><stop offset="0.62" stop-color="#cfe2dc"/><stop offset="0.78" stop-color="#86bea3"/><stop offset="1" stop-color="#068840"/></linearGradient></defs>
<rect x="782" y="98.6" width="14" height="208" fill="url(#cb)"/>
<text x="802.0" y="127.5" font-size="24" text-anchor="start" fill="#1a1a1a" >3</text>
<text x="802.0" y="211.5" font-size="24" text-anchor="start" fill="#1a1a1a" >0</text>
<text x="801.0" y="295.5" font-size="24" text-anchor="start" fill="#1a1a1a" >−3</text>
<path d="M215.8,98.4V58.4H243.4V98.4 M409.2,98.4V88.5H436.9V98.4 M381.6,98.4V86.5H423.0V88.5 M354.0,98.4V76.4H402.3V86.5 M326.3,98.4V69.1H378.1V76.4 M271.1,98.4V74.3H298.7V98.4 M284.9,74.3V57.5H352.2V69.1 M519.7,98.4V78.4H547.4V98.4 M492.1,98.4V74.3H533.6V78.4 M464.5,98.4V67.7H512.8V74.3 M602.6,98.4V77.8H630.3V98.4 M575.0,98.4V61.3H616.5V77.8 M488.7,67.7V56.4H595.7V61.3 M318.6,57.5V46.3H542.2V56.4 M229.6,58.4V26.6H430.4V46.3 M202.0,140.0H196.5V167.7H202.0 M202.0,112.2H195.4V153.8H196.5 M202.0,223.0H182.4V250.8H202.0 M202.0,195.3H178.5V236.9H182.4 M195.4,133.0H158.7V216.1H178.5 M202.0,278.5H173.7V306.2H202.0 M202.0,389.2H186.7V417.0H202.0 M202.0,444.6H182.4V472.4H202.0 M186.7,403.1H175.8V458.5H182.4 M202.0,361.6H165.5V430.8H175.8 M202.0,333.9H158.4V396.2H165.5 M173.7,292.3H150.6V365.0H158.4 M202.0,500.1H175.8V527.8H202.0 M202.0,583.1H180.7V610.9H202.0 M202.0,555.5H163.6V597.0H180.7 M175.8,513.9H150.3V576.2H163.6 M150.6,328.7H140.4V545.1H150.3 M158.7,174.6H129.3V436.9H140.4" fill="none" stroke="#3a3a3a" stroke-width="1.25"/>
</g>
<g id="B">
<text x="1006.0" y="43.0" font-size="62" font-weight="bold" text-anchor="start" fill="#231f20" >B</text>
<text x="1391.6" y="142.2" font-size="35" font-weight="bold" text-anchor="middle" fill="#231f20" >GSE53819</text>
<path d="M1122.6,182.5V542.3M1111.5,541.1H1661M1111.5,183.6H1122.6M1111.5,255.6H1122.6M1111.5,327.3H1122.6M1111.5,398.8H1122.6M1111.5,470.0H1122.6M1257.3,541H1257.3V552M1525,541V552" stroke="#231f20" stroke-width="2.6" fill="none"/>
<text x="1108.5" y="192.2" font-size="24" font-weight="bold" text-anchor="end" fill="#231f20" >10</text>
<text x="1108.5" y="264.2" font-size="24" font-weight="bold" text-anchor="end" fill="#231f20" >8</text>
<text x="1108.5" y="335.9" font-size="24" font-weight="bold" text-anchor="end" fill="#231f20" >6</text>
<text x="1108.5" y="407.4" font-size="24" font-weight="bold" text-anchor="end" fill="#231f20" >4</text>
<text x="1108.5" y="478.6" font-size="24" font-weight="bold" text-anchor="end" fill="#231f20" >2</text>
<text x="1108.5" y="549.7" font-size="24" font-weight="bold" text-anchor="end" fill="#231f20" >0</text>
<text x="1257.3" y="576.7" font-size="27" font-weight="bold" text-anchor="middle" fill="#231f20" >non-tumor</text>
<text x="1525.4" y="576.7" font-size="27" font-weight="bold" text-anchor="middle" fill="#231f20" >NPC</text>
<text transform="translate(1061.2,555.5) rotate(-90)" font-size="29" font-weight="bold" fill="#231f20" textLength="387" lengthAdjust="spacingAndGlyphs">ZIC2 expression (log2 ratio)</text>
<text x="1145.5" y="206.2" font-size="35" fill="#231f20"><tspan font-style="italic">p</tspan><tspan font-weight="bold">=0.0003</tspan></text>
<circle cx="1181.8" cy="424.7" r="7.1" fill="#231f20"/>
<circle cx="1235.4" cy="415.9" r="7.1" fill="#231f20"/>
<circle cx="1257" cy="417.9" r="7.1" fill="#231f20"/>
<circle cx="1278.5" cy="411.4" r="7.1" fill="#231f20"/>
<circle cx="1332.5" cy="425.1" r="7.1" fill="#231f20"/>
<circle cx="1203.1" cy="432.2" r="7.1" fill="#231f20"/>
<circle cx="1311" cy="434.6" r="7.1" fill="#231f20"/>
<circle cx="1192.7" cy="442.6" r="7.1" fill="#231f20"/>
<circle cx="1213.7" cy="443" r="7.1" fill="#231f20"/>
<circle cx="1224" cy="440" r="7.1" fill="#231f20"/>
<circle cx="1235.1" cy="443.7" r="7.1" fill="#231f20"/>
<circle cx="1246" cy="441" r="7.1" fill="#231f20"/>
<circle cx="1257" cy="444.8" r="7.1" fill="#231f20"/>
<circle cx="1267.9" cy="442.3" r="7.1" fill="#231f20"/>
<circle cx="1278.7" cy="443.7" r="7.1" fill="#231f20"/>
<circle cx="1289" cy="441" r="7.1" fill="#231f20"/>
<circle cx="1299.7" cy="443" r="7.1" fill="#231f20"/>
<circle cx="1321.8" cy="442.6" r="7.1" fill="#231f20"/>
<rect x="1211.7" y="429.5" width="92.1" height="10" fill="#231f20"/>
<line x1="1165.6" y1="434.6" x2="1347.8" y2="434.6" stroke="#231f20" stroke-width="3.2" stroke-linecap="round"/>
<rect x="1540.2" y="227.6" width="14.9" height="14.9" fill="#231f20"/>
<rect x="1518.6" y="248.2" width="14.9" height="14.9" fill="#231f20"/>
<rect x="1540.2" y="322.2" width="14.9" height="14.9" fill="#231f20"/>
<rect x="1497.2" y="342.1" width="14.9" height="14.9" fill="#231f20"/>
<rect x="1518.6" y="344.1" width="14.9" height="14.9" fill="#231f20"/>
<rect x="1475.8" y="353.2" width="14.9" height="14.9" fill="#231f20"/>
<rect x="1561.9" y="358.1" width="14.9" height="14.9" fill="#231f20"/>
<rect x="1497.2" y="371.2" width="14.9" height="14.9" fill="#231f20"/>
<rect x="1518.6" y="374.4" width="14.9" height="14.9" fill="#231f20"/>
<rect x="1540.2" y="372.3" width="14.9" height="14.9" fill="#231f20"/>
<rect x="1497.2" y="397.4" width="14.9" height="14.9" fill="#231f20"/>
<rect x="1518.6" y="407.2" width="14.9" height="14.9" fill="#231f20"/>
<rect x="1475.8" y="416.9" width="14.9" height="14.9" fill="#231f20"/>
<rect x="1561.9" y="418" width="14.9" height="14.9" fill="#231f20"/>
<rect x="1583.3" y="416" width="14.9" height="14.9" fill="#231f20"/>
<rect x="1497.2" y="430.2" width="14.9" height="14.9" fill="#231f20"/>
<rect x="1518.6" y="434.9" width="14.9" height="14.9" fill="#231f20"/>
<rect x="1540.2" y="433.2" width="14.9" height="14.9" fill="#231f20"/>
<line x1="1435.2" y1="377.3" x2="1616.7" y2="377.3" stroke="#231f20" stroke-width="2.8" stroke-linecap="round"/>
<line x1="1481" y1="363.6" x2="1571" y2="363.6" stroke="#231f20" stroke-width="4.6" stroke-linecap="round"/>
<line x1="1481" y1="391.3" x2="1571" y2="391.3" stroke="#231f20" stroke-width="5" stroke-linecap="round"/>
<line x1="1525.7" y1="363.6" x2="1525.7" y2="391.3" stroke="#231f20" stroke-width="5"/>
</g>
<g id="C">
<text x="43.0" y="967.0" font-size="62" font-weight="bold" text-anchor="start" fill="#231f20" >C</text>
<path d="M264.1,958V1282.6M254.9,959.1H264.1M254.9,1067.2H264.1M254.9,1173.9H264.1M254.9,1281.3H264.1M262.8,1281.3H749" stroke="#231f20" stroke-width="2.6" fill="none"/>
<text x="251.0" y="967.0" font-size="22" font-weight="bold" text-anchor="end" fill="#231f20" >0.0015</text>
<text x="251.0" y="1075.1" font-size="22" font-weight="bold" text-anchor="end" fill="#231f20" >0.0010</text>
<text x="251.0" y="1181.8" font-size="22" font-weight="bold" text-anchor="end" fill="#231f20" >0.0005</text>
<text x="251.0" y="1289.2" font-size="22" font-weight="bold" text-anchor="end" fill="#231f20" >0.0000</text>
<text transform="translate(133.5,1291.5) rotate(-90)" font-size="26" font-weight="bold" fill="#231f20" textLength="342" lengthAdjust="spacingAndGlyphs">Relative expression of ZIC2</text>
<text transform="translate(288.5,1310.2) rotate(-45)" font-size="23" font-weight="bold" text-anchor="end" fill="#231f20">NPEC5-Bmi1</text>
<text transform="translate(323.1,1310.2) rotate(-45)" font-size="23" font-weight="bold" text-anchor="end" fill="#231f20">NPEC2-Bmi1</text>
<text transform="translate(357.7,1310.2) rotate(-45)" font-size="23" font-weight="bold" text-anchor="end" fill="#231f20">NP69</text>
<path d="M385.3,1246.0V1243.4M377.8,1243.4H392.8" stroke="#231f20" stroke-width="3.4" fill="none"/>
<rect x="374.6" y="1246.8" width="21.4" height="34.5" fill="#808285" stroke="#231f20" stroke-width="3.6"/>
<text transform="translate(392.3,1310.2) rotate(-45)" font-size="23" font-weight="bold" text-anchor="end" fill="#231f20">CNE1</text>
<path d="M419.9,1232.5V1230.5M412.4,1230.5H427.4" stroke="#231f20" stroke-width="3.4" fill="none"/>
<rect x="409.2" y="1233.3" width="21.4" height="48.0" fill="#808285" stroke="#231f20" stroke-width="3.6"/>
<text transform="translate(426.9,1310.2) rotate(-45)" font-size="23" font-weight="bold" text-anchor="end" fill="#231f20">SUNE2</text>
<path d="M454.5,1220.2V1218.0M447.0,1218.0H462.0" stroke="#231f20" stroke-width="3.4" fill="none"/>
<rect x="443.8" y="1221.0" width="21.4" height="60.3" fill="#808285" stroke="#231f20" stroke-width="3.6"/>
<text transform="translate(461.5,1310.2) rotate(-45)" font-size="23" font-weight="bold" text-anchor="end" fill="#231f20">CNE2</text>
<path d="M489.1,1193.2V1182.2M481.6,1182.2H496.6" stroke="#231f20" stroke-width="3.4" fill="none"/>
<rect x="478.4" y="1194.0" width="21.4" height="87.3" fill="#808285" stroke="#231f20" stroke-width="3.6"/>
<text transform="translate(496.1,1310.2) rotate(-45)" font-size="23" font-weight="bold" text-anchor="end" fill="#231f20">S18</text>
<path d="M523.7,1169.0V1156.1M516.2,1156.1H531.2" stroke="#231f20" stroke-width="3.4" fill="none"/>
<rect x="513.0" y="1169.8" width="21.4" height="111.5" fill="#808285" stroke="#231f20" stroke-width="3.6"/>
<text transform="translate(530.7,1310.2) rotate(-45)" font-size="23" font-weight="bold" text-anchor="end" fill="#231f20">HNE1</text>
<path d="M558.3,1146.4V1129.4M550.8,1129.4H565.8" stroke="#231f20" stroke-width="3.4" fill="none"/>
<rect x="547.6" y="1147.2" width="21.4" height="134.1" fill="#808285" stroke="#231f20" stroke-width="3.6"/>
<text transform="translate(565.3,1310.2) rotate(-45)" font-size="23" font-weight="bold" text-anchor="end" fill="#231f20">S26</text>
<path d="M592.9,1128.2V1125.0M585.4,1125.0H600.4" stroke="#231f20" stroke-width="3.4" fill="none"/>
<rect x="582.2" y="1129.0" width="21.4" height="152.3" fill="#808285" stroke="#231f20" stroke-width="3.6"/>
<text transform="translate(599.9,1310.2) rotate(-45)" font-size="23" font-weight="bold" text-anchor="end" fill="#231f20">HK1</text>
<rect x="616.8" y="1132.1" width="21.4" height="149.2" fill="#808285" stroke="#231f20" stroke-width="3.6"/>
<text transform="translate(634.5,1310.2) rotate(-45)" font-size="23" font-weight="bold" text-anchor="end" fill="#231f20">5-8F</text>
<path d="M662.1,1114.7V1082.3M654.6,1082.3H669.6" stroke="#231f20" stroke-width="3.4" fill="none"/>
<rect x="651.4" y="1115.5" width="21.4" height="165.8" fill="#808285" stroke="#231f20" stroke-width="3.6"/>
<text transform="translate(669.1,1310.2) rotate(-45)" font-size="23" font-weight="bold" text-anchor="end" fill="#231f20">6-10B</text>
<path d="M696.7,1080.1V1029.8M689.2,1029.8H704.2" stroke="#231f20" stroke-width="3.4" fill="none"/>
<rect x="686.0" y="1080.9" width="21.4" height="200.4" fill="#808285" stroke="#231f20" stroke-width="3.6"/>
<text transform="translate(703.7,1310.2) rotate(-45)" font-size="23" font-weight="bold" text-anchor="end" fill="#231f20">SUNE1</text>
<path d="M731.3,1055.0V1028.3M723.8,1028.3H738.8" stroke="#231f20" stroke-width="3.4" fill="none"/>
<rect x="720.6" y="1055.8" width="21.4" height="225.5" fill="#808285" stroke="#231f20" stroke-width="3.6"/>
<text transform="translate(738.3,1310.2) rotate(-45)" font-size="23" font-weight="bold" text-anchor="end" fill="#231f20">C666-1</text>
<path d="M281.5,1281.3V1292.1M316.1,1281.3V1292.1M350.7,1281.3V1292.1M385.3,1281.3V1292.1M419.9,1281.3V1292.1M454.5,1281.3V1292.1M489.1,1281.3V1292.1M523.7,1281.3V1292.1M558.3,1281.3V1292.1M592.9,1281.3V1292.1M627.5,1281.3V1292.1M662.1,1281.3V1292.1M696.7,1281.3V1292.1M731.3,1281.3V1292.1" stroke="#231f20" stroke-width="2.4"/>
<rect x="275" y="1279" width="13" height="2.5" fill="#231f20"/><rect x="339.5" y="1279" width="23.5" height="2.5" fill="#231f20"/>
<rect x="345.5" y="1374.4" width="352" height="4.4" fill="#231f20"/>
<text x="512.9" y="1409.0" font-size="26" font-weight="bold" text-anchor="middle" fill="#231f20" >NPC cell lines</text>
<rect x="180.2" y="1415.8" width="126" height="4.4" fill="#231f20"/>
<text x="167.2" y="1453.7" font-size="26" font-weight="bold" text-anchor="start" fill="#231f20" >immortalized</text>
<text x="167.2" y="1485.5" font-size="26" font-weight="bold" text-anchor="start" fill="#231f20" >NPN cell lines</text>
<defs><filter id="bl2" x="-30%" y="-80%" width="160%" height="260%"><feGaussianBlur stdDeviation="2.2"/></filter><filter id="bl3" x="-30%" y="-80%" width="160%" height="260%"><feGaussianBlur stdDeviation="3.4"/></filter><filter id="bl1" x="-30%" y="-80%" width="160%" height="260%"><feGaussianBlur stdDeviation="1.4"/></filter></defs>
<text transform="translate(119.6,1641.0) rotate(-90)" font-size="21" font-weight="bold" fill="#231f20">N04</text>
<text transform="translate(163.6,1641.0) rotate(-90)" font-size="21" font-weight="bold" fill="#231f20">N06</text>
<text transform="translate(209.3,1641.0) rotate(-90)" font-size="21" font-weight="bold" fill="#231f20">NP69</text>
<text transform="translate(255.2,1641.0) rotate(-90)" font-size="21" font-weight="bold" fill="#231f20">NPEC5-Bmi1</text>
<text transform="translate(292.2,1641.0) rotate(-90)" font-size="21" font-weight="bold" fill="#231f20">N5-tert</text>
<text transform="translate(331.6,1641.0) rotate(-90)" font-size="21" font-weight="bold" fill="#231f20">CNE1</text>
<text transform="translate(375.6,1641.0) rotate(-90)" font-size="21" font-weight="bold" fill="#231f20">CNE2</text>
<text transform="translate(415.0,1641.0) rotate(-90)" font-size="21" font-weight="bold" fill="#231f20">HONE1</text>
<text transform="translate(459.3,1641.0) rotate(-90)" font-size="21" font-weight="bold" fill="#231f20">SUNE1</text>
<text transform="translate(526.9,1649.8) rotate(-90)" font-size="21" font-weight="bold" fill="#231f20">SUNE2</text>
<text transform="translate(563.7,1641.5) rotate(-90)" font-size="21" font-weight="bold" fill="#231f20">5-8F</text>
<text transform="translate(603.7,1641.5) rotate(-90)" font-size="21" font-weight="bold" fill="#231f20">6-10B</text>
<text transform="translate(648.5,1641.5) rotate(-90)" font-size="21" font-weight="bold" fill="#231f20">HNE1</text>
<text transform="translate(693.8,1641.5) rotate(-90)" font-size="21" font-weight="bold" fill="#231f20">HK1</text>
<path d="M88.6,1655.1H126.3M133.7,1655.1H171.6M179.8,1655.1H217.4M225.3,1655.1H262.8M270.1,1655.1H300.4M308.6,1655.1H338.6M346.5,1655.1H384.2M391.6,1655.1H429.3M436.7,1655.1H474.1M496.7,1655.1H534.2M542.7,1655.1H572.2M580.1,1655.1H617.5M625.4,1655.1H655.4M663.3,1655.1H700.7" stroke="#3a3a3a" stroke-width="2.2"/>
<rect x="88.5" y="1662.9" width="400.3" height="45.6" fill="#b1b7bf"/>
<rect x="88.5" y="1716.2" width="400.3" height="45" fill="#aab0b8"/>
<rect x="497.1" y="1663" width="211.5" height="45" fill="#b0b6be"/>
<rect x="497.1" y="1716.5" width="211.5" height="44.2" fill="#aab0b8"/>
<clipPath id="clipC"><rect x="88.5" y="1662.9" width="400.3" height="45.6"/><rect x="88.5" y="1716.2" width="400.3" height="45"/><rect x="497.1" y="1663" width="211.5" height="45"/><rect x="497.1" y="1716.5" width="211.5" height="44.2"/></clipPath>
<g clip-path="url(#clipC)">
<rect x="95.2" y="1728.5" width="34.2" height="18.0" rx="8.6" fill="#1c2022" opacity="1.0" filter="url(#bl2)"/>
<rect x="138.0" y="1730.5" width="37.2" height="18.0" rx="9.0" fill="#1c2022" opacity="1.0" filter="url(#bl2)"/>
<rect x="184.4" y="1729.5" width="28.6" height="17.0" rx="7.1" fill="#1c2022" opacity="1.0" filter="url(#bl2)"/>
<rect x="222.7" y="1729.5" width="42.0" height="19.0" rx="9.5" fill="#1c2022" opacity="1.0" filter="url(#bl2)"/>
<rect x="271.6" y="1730.0" width="29.8" height="15.0" rx="7.4" fill="#1c2022" opacity="1.0" filter="url(#bl2)"/>
<rect x="311.2" y="1729.0" width="32.1" height="18.0" rx="8.0" fill="#1c2022" opacity="1.0" filter="url(#bl2)"/>
<rect x="350.0" y="1729.5" width="44.0" height="19.0" rx="9.5" fill="#1c2022" opacity="1.0" filter="url(#bl2)"/>
<rect x="400.9" y="1729.0" width="35.0" height="18.0" rx="8.8" fill="#1c2022" opacity="1.0" filter="url(#bl2)"/>
<rect x="443.0" y="1726.0" width="42.0" height="21.0" rx="10.5" fill="#1c2022" opacity="1.0" filter="url(#bl2)"/>
<rect x="505.6" y="1730.0" width="36.1" height="19.0" rx="9.0" fill="#1c2022" opacity="1.0" filter="url(#bl2)"/>
<rect x="548.0" y="1730.5" width="32.5" height="18.0" rx="8.1" fill="#1c2022" opacity="1.0" filter="url(#bl2)"/>
<rect x="586.4" y="1731.0" width="33.5" height="18.0" rx="8.4" fill="#1c2022" opacity="1.0" filter="url(#bl2)"/>
<rect x="626.8" y="1729.5" width="33.1" height="19.0" rx="8.3" fill="#1c2022" opacity="1.0" filter="url(#bl2)"/>
<rect x="665.2" y="1728.5" width="38.4" height="20.0" rx="9.6" fill="#1c2022" opacity="1.0" filter="url(#bl2)"/>
<rect x="97.0" y="1674.5" width="30.0" height="3.0" rx="1.5" fill="#8c9298" opacity="0.6" filter="url(#bl2)"/>
<rect x="99.0" y="1689.5" width="25.0" height="3.0" rx="1.5" fill="#959ba1" opacity="0.5" filter="url(#bl2)"/>
<rect x="141.0" y="1672.5" width="26.0" height="4.0" rx="2.0" fill="#747a80" opacity="0.8" filter="url(#bl2)"/>
<rect x="139.0" y="1688.5" width="30.0" height="3.0" rx="1.5" fill="#8c9298" opacity="0.6" filter="url(#bl2)"/>
<rect x="186.0" y="1674.5" width="25.0" height="3.0" rx="1.5" fill="#9ba1a7" opacity="0.5" filter="url(#bl2)"/>
<rect x="227.0" y="1674.5" width="34.0" height="3.0" rx="1.5" fill="#8c9298" opacity="0.6" filter="url(#bl2)"/>
<rect x="273.0" y="1673.5" width="24.0" height="3.0" rx="1.5" fill="#8c9298" opacity="0.6" filter="url(#bl2)"/>
<rect x="313.0" y="1677.0" width="22.0" height="5.0" rx="2.5" fill="#5d6368" opacity="0.75" filter="url(#bl2)"/>
<rect x="311.0" y="1692.5" width="25.0" height="5.0" rx="2.5" fill="#40464a" opacity="0.85" filter="url(#bl2)"/>
<rect x="349.0" y="1674.0" width="38.0" height="10.0" rx="5.0" fill="#1c2022" opacity="1" filter="url(#bl2)"/>
<rect x="352.0" y="1691.5" width="35.0" height="5.0" rx="2.5" fill="#6a7075" opacity="0.7" filter="url(#bl2)"/>
<rect x="397.0" y="1672.5" width="34.0" height="10.0" rx="5.0" fill="#1c2022" opacity="1" filter="url(#bl2)"/>
<rect x="400.0" y="1689.0" width="29.0" height="7.0" rx="3.5" fill="#454b4f" opacity="0.85" filter="url(#bl2)"/>
<rect x="442.0" y="1672.5" width="34.0" height="9.0" rx="4.5" fill="#1c2022" opacity="1" filter="url(#bl2)"/>
<rect x="442.0" y="1688.0" width="35.0" height="8.0" rx="4.0" fill="#3a4044" opacity="0.9" filter="url(#bl2)"/>
<rect x="504.0" y="1675.0" width="31.0" height="6.0" rx="3.0" fill="#2c3235" opacity="0.9" filter="url(#bl2)"/>
<rect x="505.0" y="1691.0" width="30.0" height="5.0" rx="2.5" fill="#7a8085" opacity="0.7" filter="url(#bl2)"/>
<rect x="546.0" y="1675.0" width="29.6" height="5.0" rx="2.5" fill="#3a4044" opacity="0.85" filter="url(#bl2)"/>
<rect x="548.0" y="1690.5" width="29.5" height="6.0" rx="3.0" fill="#4a5054" opacity="0.85" filter="url(#bl2)"/>
<rect x="587.4" y="1672.0" width="33.5" height="11.0" rx="5.5" fill="#1a1e20" opacity="1" filter="url(#bl2)"/>
<rect x="589.0" y="1690.0" width="30.0" height="8.0" rx="4.0" fill="#2a3033" opacity="0.95" filter="url(#bl2)"/>
<rect x="628.8" y="1673.0" width="28.5" height="6.0" rx="3.0" fill="#1e2326" opacity="1" filter="url(#bl2)"/>
<rect x="629.0" y="1689.0" width="29.0" height="8.0" rx="4.0" fill="#30363a" opacity="0.9" filter="url(#bl2)"/>
<rect x="667.2" y="1672.0" width="31.5" height="6.0" rx="3.0" fill="#1e2326" opacity="1" filter="url(#bl2)"/>
<rect x="667.0" y="1689.3" width="32.0" height="6.0" rx="3.0" fill="#4a5054" opacity="0.85" filter="url(#bl2)"/>
</g>
<path d="M709,1692.8H739.5M709,1692.8L719.5,1687.3M709,1692.8L719.5,1698.3" stroke="#231f20" stroke-width="1.3" fill="none"/>
<text x="741.0" y="1698.2" font-size="21" font-weight="bold" text-anchor="start" fill="#231f20" >ZIC2</text>
<text x="718.5" y="1745.4" font-size="21" font-weight="bold" text-anchor="start" fill="#231f20" >GAPDH</text>
</g>
<g id="D">
<text x="51.0" y="1866.0" font-size="62" font-weight="bold" text-anchor="start" fill="#231f20" >D</text>
<text x="264.0" y="1914.7" font-size="19" font-weight="bold" text-anchor="middle" fill="#231f20" >CNE2-EBV</text>
<rect x="137.6" y="1923.8" width="261" height="4.8" fill="#231f20"/>
<path d="M127,1949.6V2149.6M121.1,1950.3H127M121.1,2017.5H127M121.1,2082.8H127M121.1,2148.8H127M121.1,2148.8H397.1M172,2148.8V2155.7M261.6,2148.8V2155.7M351.7,2148.8V2155.7" stroke="#231f20" stroke-width="1.8" fill="none"/>
<text x="120.2" y="1955.0" font-size="13.2" font-weight="bold" text-anchor="end" fill="#3d3d1c" >0.00015</text>
<text x="120.2" y="2022.2" font-size="13.2" font-weight="bold" text-anchor="end" fill="#3d3d1c" >0.00010</text>
<text x="120.2" y="2087.5" font-size="13.2" font-weight="bold" text-anchor="end" fill="#3d3d1c" >0.00005</text>
<text x="120.2" y="2153.5" font-size="13.2" font-weight="bold" text-anchor="end" fill="#3d3d1c" >0.00000</text>
<rect x="141" y="2008.9" width="62" height="139.1" fill="#3d459f"/>
<path d="M156.7,2007.1H187.7" stroke="#3d459f" stroke-width="1.6"/>
<rect x="231" y="2124.3" width="61.8" height="23.7" fill="#f59a31"/>
<path d="M246.5,2123.8H277.5" stroke="#f59a31" stroke-width="1.6"/>
<rect x="320.3" y="2110.7" width="62.1" height="37.3" fill="#8f9738"/>
<path d="M336.4,2108.1H367.4" stroke="#8f9738" stroke-width="1.6"/>
<text x="169.6" y="2177.0" font-size="16.6" font-weight="bold" text-anchor="middle" fill="#231f20" >shctrl</text>
<text x="258.4" y="2177.0" font-size="16.6" font-weight="bold" text-anchor="middle" fill="#231f20" >shZIC2 #1</text>
<text x="349.0" y="2177.0" font-size="16.6" font-weight="bold" text-anchor="middle" fill="#231f20" >shZIC2 #2</text>
<text transform="translate(60.5,2162.5) rotate(-90)" font-size="18.5" font-weight="bold" fill="#231f20" textLength="222" lengthAdjust="spacingAndGlyphs">Relative expression of ZIC2</text>
<text x="625.0" y="1916.0" font-size="19" font-weight="bold" text-anchor="middle" fill="#231f20" >HNE1-EBV</text>
<rect x="489.5" y="1923.8" width="254" height="4.8" fill="#231f20"/>
<path d="M482.7,1948.9V2150M477,1949.4H482.7M477,1999.9H482.7M477,2049.6H482.7M477,2099.7H482.7M477,2149.2H782.3M532.3,2149.2V2155.6M632.6,2149.2V2155.6M732.6,2149.2V2155.6" stroke="#231f20" stroke-width="1.8" fill="none"/>
<text x="475.5" y="1954.6" font-size="15.2" font-weight="bold" text-anchor="end" fill="#231f20" >0.0004</text>
<text x="475.5" y="2005.1" font-size="15.2" font-weight="bold" text-anchor="end" fill="#231f20" >0.0003</text>
<text x="475.5" y="2054.8" font-size="15.2" font-weight="bold" text-anchor="end" fill="#231f20" >0.0002</text>
<text x="475.5" y="2104.9" font-size="15.2" font-weight="bold" text-anchor="end" fill="#231f20" >0.0001</text>
<text x="475.5" y="2154.4" font-size="15.2" font-weight="bold" text-anchor="end" fill="#231f20" >0.0000</text>
<rect x="499.1" y="1983.5" width="66.7" height="164.9" fill="#3d459f"/>
<path d="M516.1,1979.4H549.4M532.3,1979.4V1983.5" stroke="#3d459f" stroke-width="2.3"/>
<rect x="599.3" y="2111.1" width="66.8" height="37.3" fill="#f59a31"/>
<path d="M616,2107.7H649M632.6,2107.7V2111.1" stroke="#f59a31" stroke-width="2.3"/>
<rect x="699.1" y="2111.1" width="66.8" height="37.3" fill="#8f9738"/>
<path d="M716.2,2105H749.2M732.6,2105V2111.1" stroke="#8f9738" stroke-width="2.3"/>
<text x="525.8" y="2174.2" font-size="16.3" font-weight="bold" text-anchor="middle" fill="#231f20" >shctrl</text>
<text x="619.7" y="2174.2" font-size="16.3" font-weight="bold" text-anchor="middle" fill="#231f20" >shZIC2 #1</text>
<text x="714.2" y="2174.2" font-size="16.3" font-weight="bold" text-anchor="middle" fill="#231f20" >shZIC2 #2</text>
<text x="257.5" y="2260.4" font-size="18.3" font-weight="bold" text-anchor="middle" fill="#231f20" >CNE2-EBV</text>
<text x="573.5" y="2261.9" font-size="18.3" font-weight="bold" text-anchor="middle" fill="#231f20" >HNE1-EBV</text>
<path d="M87.4,2274.8H394.8M421.2,2275.8H738.2" stroke="#231f20" stroke-width="1.6"/>
<text x="92.7" y="2306.0" font-size="18.2" font-weight="bold" text-anchor="start" fill="#231f20" >shctrl</text>
<text x="191.2" y="2306.0" font-size="18.2" font-weight="bold" text-anchor="start" fill="#231f20" >shZIC2 #1</text>
<text x="306.0" y="2306.0" font-size="18.2" font-weight="bold" text-anchor="start" fill="#231f20" >shZIC2 #2</text>
<text x="429.0" y="2306.5" font-size="18.2" font-weight="bold" text-anchor="start" fill="#231f20" >shctrl</text>
<text x="529.8" y="2306.5" font-size="18.2" font-weight="bold" text-anchor="start" fill="#231f20" >shZIC2 #1</text>
<text x="647.5" y="2306.5" font-size="18.2" font-weight="bold" text-anchor="start" fill="#231f20" >shZIC2 #2</text>
<defs><linearGradient id="bgD" x1="0" y1="0" x2="0" y2="1"><stop offset="0" stop-color="#9da4ac"/><stop offset="1" stop-color="#a6adb5"/></linearGradient></defs>
<rect x="82.6" y="2314.7" width="318.4" height="86.5" fill="url(#bgD)"/>
<rect x="80.2" y="2410.8" width="320.8" height="62.2" fill="url(#bgD)"/>
<rect x="424.6" y="2315.7" width="323.2" height="87.4" fill="url(#bgD)"/>
<rect x="424.6" y="2411.7" width="319.9" height="61.3" fill="url(#bgD)"/>
<clipPath id="clipD"><rect x="82.6" y="2314.7" width="318.4" height="86.5"/><rect x="80.2" y="2410.8" width="320.8" height="62.2"/><rect x="424.6" y="2315.7" width="323.2" height="87.4"/><rect x="424.6" y="2411.7" width="319.9" height="61.3"/></clipPath>
<g clip-path="url(#clipD)">
<rect x="89.5" y="2331.5" width="86.0" height="19.6" rx="9.8" fill="#2c3437" opacity="1" filter="url(#bl3)"/>
<rect x="91.5" y="2364.5" width="85.0" height="23.7" rx="11.8" fill="#2c3437" opacity="1" filter="url(#bl3)"/>
<rect x="206.5" y="2342.5" width="74.0" height="8.5" rx="4.2" fill="#6b7379" opacity="0.8" filter="url(#bl3)"/>
<rect x="255.5" y="2341.5" width="25.0" height="11.0" rx="5.5" fill="#444c50" opacity="0.9" filter="url(#bl3)"/>
<rect x="315.5" y="2333.5" width="29.0" height="10.3" rx="5.2" fill="#3c4448" opacity="0.95" filter="url(#bl3)"/>
<rect x="340.5" y="2335.5" width="51.0" height="7.0" rx="3.5" fill="#6b7379" opacity="0.75" filter="url(#bl3)"/>
<rect x="84.5" y="2430.5" width="91.0" height="22.7" rx="11.3" fill="#2c3437" opacity="1" filter="url(#bl3)"/>
<rect x="195.5" y="2432.0" width="88.0" height="19.5" rx="9.8" fill="#2c3437" opacity="1" filter="url(#bl3)"/>
<rect x="306.5" y="2432.0" width="89.5" height="21.2" rx="10.6" fill="#2c3437" opacity="1" filter="url(#bl3)"/>
<rect x="430.5" y="2328.3" width="83.0" height="22.8" rx="11.4" fill="#2c3437" opacity="1" filter="url(#bl3)"/>
<rect x="430.5" y="2367.5" width="87.0" height="26.9" rx="13.5" fill="#2c3437" opacity="1" filter="url(#bl3)"/>
<rect x="558.5" y="2333.5" width="62.0" height="8.3" rx="4.2" fill="#5f686d" opacity="0.85" filter="url(#bl3)"/>
<rect x="560.5" y="2373.5" width="59.0" height="7.0" rx="3.5" fill="#8e959c" opacity="0.6" filter="url(#bl3)"/>
<rect x="665.5" y="2329.5" width="70.5" height="14.3" rx="7.2" fill="#323a3e" opacity="1" filter="url(#bl3)"/>
<rect x="669.5" y="2366.5" width="64.5" height="13.4" rx="6.7" fill="#545c61" opacity="0.9" filter="url(#bl3)"/>
<rect x="430.5" y="2428.5" width="89.0" height="34.0" rx="17.0" fill="#2c3437" opacity="1" filter="url(#bl3)"/>
<rect x="539.5" y="2428.5" width="91.5" height="34.0" rx="17.0" fill="#2c3437" opacity="1" filter="url(#bl3)"/>
<rect x="647.5" y="2428.5" width="95.5" height="36.0" rx="18.0" fill="#2c3437" opacity="1" filter="url(#bl3)"/>
</g>
<text x="9.8" y="2387.0" font-size="20" font-weight="bold" text-anchor="start" fill="#231f20" >ZIC2</text>
<path d="M53.8,2376.7H82M82,2376.7L74,2372.5M82,2376.7L74,2381" stroke="#231f20" stroke-width="1.8" fill="none"/>
<text x="-1.0" y="2455.0" font-size="18" font-weight="bold" text-anchor="start" fill="#231f20" >α-tubulin</text>
</g>
<g id="E">
<text x="921.0" y="728.2" font-size="62" font-weight="bold" text-anchor="start" fill="#231f20" >E</text>
<text x="1257.7" y="744.3" font-size="34" font-weight="bold" text-anchor="middle" fill="#231f20" >CNE2-EBV</text>
<rect x="905.2" y="765.7" width="344.5" height="37.3" fill="#06aacd"/>
<g transform="translate(1267.3,790.5) scale(1.071,1)"><text x="0.0" y="0.0" font-size="21.9" font-weight="bold" text-anchor="start" fill="#1e1e1e" stroke="#fff" stroke-width="0.3">TNFA SIGNALING VIA NFKB</text></g>
<rect x="955.5" y="811.8" width="294.2" height="37.3" fill="#06aacd"/>
<g transform="translate(1267.3,836.5) scale(1.071,1)"><text x="0.0" y="0.0" font-size="21.9" font-weight="bold" text-anchor="start" fill="#1e1e1e" stroke="#fff" stroke-width="0.3">EPITHELIAL MESENCHYMAL TRANSITION</text></g>
<rect x="980.7" y="857.9" width="269.0" height="37.3" fill="#06aacd"/>
<g transform="translate(1267.3,882.6) scale(1.071,1)"><text x="0.0" y="0.0" font-size="21.9" font-weight="bold" text-anchor="start" fill="#1e1e1e" stroke="#fff" stroke-width="0.3">MYC TARGETS V2</text></g>
<rect x="993.6" y="903.9" width="256.1" height="37.3" fill="#06aacd"/>
<g transform="translate(1267.3,928.7) scale(1.071,1)"><text x="0.0" y="0.0" font-size="21.9" font-weight="bold" text-anchor="start" fill="#1e1e1e" stroke="#fff" stroke-width="0.3">KRAS SIGNALING UP</text></g>
<rect x="1017.1" y="950.0" width="232.6" height="37.3" fill="#06aacd"/>
<g transform="translate(1267.3,974.8) scale(1.071,1)"><text x="0.0" y="0.0" font-size="21.9" font-weight="bold" text-anchor="start" fill="#1e1e1e" stroke="#fff" stroke-width="0.3">HYPOXIA</text></g>
<rect x="1034.8" y="996.1" width="214.9" height="37.3" fill="#06aacd"/>
<g transform="translate(1267.3,1020.9) scale(1.071,1)"><text x="0.0" y="0.0" font-size="21.9" font-weight="bold" text-anchor="start" fill="#1e1e1e" stroke="#fff" stroke-width="0.3">E2F TARGETS</text></g>
<rect x="1037.0" y="1042.2" width="212.7" height="37.3" fill="#06aacd"/>
<g transform="translate(1267.3,1066.9) scale(1.071,1)"><text x="0.0" y="0.0" font-size="21.9" font-weight="bold" text-anchor="start" fill="#1e1e1e" stroke="#fff" stroke-width="0.3">G2M CHECKPOINT</text></g>
<rect x="1038.6" y="1088.3" width="211.1" height="37.3" fill="#06aacd"/>
<g transform="translate(1267.3,1113.0) scale(1.071,1)"><text x="0.0" y="0.0" font-size="21.9" font-weight="bold" text-anchor="start" fill="#1e1e1e" stroke="#fff" stroke-width="0.3">MYC TARGETS V1</text></g>
<rect x="1249.7" y="1134.3" width="215.8" height="37.3" fill="#f28f85"/>
<g transform="translate(1235.2,1159.1) scale(1.071,1)"><text x="0.0" y="0.0" font-size="21.9" font-weight="bold" text-anchor="end" fill="#1e1e1e" stroke="#fff" stroke-width="0.3">ESTROGEN RESPONSE EARLY</text></g>
<rect x="1249.7" y="1180.4" width="228.7" height="37.3" fill="#f28f85"/>
<g transform="translate(1235.2,1205.2) scale(1.071,1)"><text x="0.0" y="0.0" font-size="21.9" font-weight="bold" text-anchor="end" fill="#1e1e1e" stroke="#fff" stroke-width="0.3">HEME METABOLISM</text></g>
<rect x="1249.7" y="1226.5" width="239.9" height="37.3" fill="#f28f85"/>
<g transform="translate(1235.2,1251.2) scale(1.071,1)"><text x="0.0" y="0.0" font-size="21.9" font-weight="bold" text-anchor="end" fill="#1e1e1e" stroke="#fff" stroke-width="0.3">FATTY ACID METABOLISM</text></g>
<rect x="1249.7" y="1272.6" width="245.3" height="37.3" fill="#f28f85"/>
<g transform="translate(1235.2,1297.3) scale(1.071,1)"><text x="0.0" y="0.0" font-size="21.9" font-weight="bold" text-anchor="end" fill="#1e1e1e" stroke="#fff" stroke-width="0.3">ESTROGEN RESPONSE LATE</text></g>
<rect x="1249.7" y="1318.7" width="269.4" height="37.3" fill="#f28f85"/>
<g transform="translate(1235.2,1343.4) scale(1.071,1)"><text x="0.0" y="0.0" font-size="21.9" font-weight="bold" text-anchor="end" fill="#1e1e1e" stroke="#fff" stroke-width="0.3">CHOLESTEROL HOMEOSTASIS</text></g>
<path d="M943.2,1363.5H1556.1M943.2,1361.5V1374.6M1096.4,1361.5V1374.6M1249.6,1361.5V1374.6M1402.8,1361.5V1374.6M1556.0,1361.5V1374.6" stroke="#1c1c1c" stroke-width="4.2" fill="none"/>
<text x="943.2" y="1400.4" font-size="18.5" text-anchor="middle" fill="#4d4d4d" >−2</text>
<text x="1096.4" y="1400.4" font-size="18.5" text-anchor="middle" fill="#4d4d4d" >−1</text>
<text x="1249.6" y="1400.4" font-size="18.5" text-anchor="middle" fill="#4d4d4d" >0</text>
<text x="1402.8" y="1400.4" font-size="18.5" text-anchor="middle" fill="#4d4d4d" >1</text>
<text x="1556.0" y="1400.4" font-size="18.5" text-anchor="middle" fill="#4d4d4d" >2</text>
<text x="1249.7" y="1436.4" font-size="23" text-anchor="middle" fill="#1e1e1e" >Normalized Enrichment Score</text>
<text x="1600.5" y="1028.2" font-size="20.8" font-weight="bold" text-anchor="start" fill="#1e1e1e" letter-spacing="0.8">STATUS</text>
<rect x="1602.1" y="1044.3" width="33.2" height="31.1" fill="#f28f85"/>
<rect x="1602.1" y="1078" width="33.2" height="30.6" fill="#06aacd"/>
<text x="1649.8" y="1066.8" font-size="18.6" text-anchor="start" fill="#1e1e1e" >Activated</text>
<text x="1649.8" y="1100.5" font-size="18.6" text-anchor="start" fill="#1e1e1e" >Suppressed</text>
<text x="1230.5" y="1554.8" font-size="34" font-weight="bold" text-anchor="middle" fill="#231f20" >HNE1-EBV</text>
<rect x="878.6" y="1587.2" width="317.9" height="27.5" fill="#06aacd"/>
<g transform="translate(1210.7,1607.7) scale(0.985,1)"><text x="0.0" y="0.0" font-size="22.8" font-weight="bold" text-anchor="start" fill="#1e1e1e" stroke="#fff" stroke-width="0.3">HYPOXIA</text></g>
<rect x="894.1" y="1621.5" width="302.4" height="27.5" fill="#06aacd"/>
<g transform="translate(1210.7,1641.9) scale(0.985,1)"><text x="0.0" y="0.0" font-size="22.8" font-weight="bold" text-anchor="start" fill="#1e1e1e" stroke="#fff" stroke-width="0.3">INTERFERON ALPHA RESPONSE</text></g>
<rect x="894.8" y="1655.7" width="301.7" height="27.5" fill="#06aacd"/>
<g transform="translate(1210.7,1676.2) scale(0.985,1)"><text x="0.0" y="0.0" font-size="22.8" font-weight="bold" text-anchor="start" fill="#1e1e1e" stroke="#fff" stroke-width="0.3">EPITHELIAL MESENCHYMAL TRANSITION</text></g>
<rect x="896.3" y="1690.0" width="300.2" height="27.5" fill="#06aacd"/>
<g transform="translate(1210.7,1710.5) scale(0.985,1)"><text x="0.0" y="0.0" font-size="22.8" font-weight="bold" text-anchor="start" fill="#1e1e1e" stroke="#fff" stroke-width="0.3">TNFA SIGNALING VIA NFKB</text></g>
<rect x="896.9" y="1724.3" width="299.6" height="27.5" fill="#06aacd"/>
<g transform="translate(1210.7,1744.7) scale(0.985,1)"><text x="0.0" y="0.0" font-size="22.8" font-weight="bold" text-anchor="start" fill="#1e1e1e" stroke="#fff" stroke-width="0.3">MYOGENESIS</text></g>
<rect x="904.0" y="1758.6" width="292.5" height="27.5" fill="#06aacd"/>
<g transform="translate(1210.7,1779.0) scale(0.985,1)"><text x="0.0" y="0.0" font-size="22.8" font-weight="bold" text-anchor="start" fill="#1e1e1e" stroke="#fff" stroke-width="0.3">KRAS SIGNALING UP</text></g>
<rect x="907.3" y="1792.8" width="289.2" height="27.5" fill="#06aacd"/>
<g transform="translate(1210.7,1813.3) scale(0.985,1)"><text x="0.0" y="0.0" font-size="22.8" font-weight="bold" text-anchor="start" fill="#1e1e1e" stroke="#fff" stroke-width="0.3">COAGULATION</text></g>
<rect x="915.9" y="1827.1" width="280.6" height="27.5" fill="#06aacd"/>
<g transform="translate(1210.7,1847.5) scale(0.985,1)"><text x="0.0" y="0.0" font-size="22.8" font-weight="bold" text-anchor="start" fill="#1e1e1e" stroke="#fff" stroke-width="0.3">INTERFERON GAMMA RESPONSE</text></g>
<rect x="924.8" y="1861.4" width="271.7" height="27.5" fill="#06aacd"/>
<g transform="translate(1210.7,1881.8) scale(0.985,1)"><text x="0.0" y="0.0" font-size="22.8" font-weight="bold" text-anchor="start" fill="#1e1e1e" stroke="#fff" stroke-width="0.3">INFLAMMATORY RESPONSE</text></g>
<rect x="934.5" y="1895.6" width="262.0" height="27.5" fill="#06aacd"/>
<g transform="translate(1210.7,1916.1) scale(0.985,1)"><text x="0.0" y="0.0" font-size="22.8" font-weight="bold" text-anchor="start" fill="#1e1e1e" stroke="#fff" stroke-width="0.3">CHOLESTEROL HOMEOSTASIS</text></g>
<rect x="935.2" y="1929.9" width="261.3" height="27.5" fill="#06aacd"/>
<g transform="translate(1210.7,1950.4) scale(0.985,1)"><text x="0.0" y="0.0" font-size="22.8" font-weight="bold" text-anchor="start" fill="#1e1e1e" stroke="#fff" stroke-width="0.3">COMPLEMENT</text></g>
<rect x="937.1" y="1964.2" width="259.4" height="27.5" fill="#06aacd"/>
<g transform="translate(1210.7,1984.6) scale(0.985,1)"><text x="0.0" y="0.0" font-size="22.8" font-weight="bold" text-anchor="start" fill="#1e1e1e" stroke="#fff" stroke-width="0.3">KRAS SIGNALING DN</text></g>
<rect x="958.4" y="1998.4" width="238.1" height="27.5" fill="#06aacd"/>
<g transform="translate(1210.7,2018.9) scale(0.985,1)"><text x="0.0" y="0.0" font-size="22.8" font-weight="bold" text-anchor="start" fill="#1e1e1e" stroke="#fff" stroke-width="0.3">HEME METABOLISM</text></g>
<rect x="965.3" y="2032.7" width="231.2" height="27.5" fill="#06aacd"/>
<g transform="translate(1210.7,2053.2) scale(0.985,1)"><text x="0.0" y="0.0" font-size="22.8" font-weight="bold" text-anchor="start" fill="#1e1e1e" stroke="#fff" stroke-width="0.3">BILE ACID METABOLISM</text></g>
<rect x="967.7" y="2067.0" width="228.8" height="27.5" fill="#06aacd"/>
<g transform="translate(1210.7,2087.4) scale(0.985,1)"><text x="0.0" y="0.0" font-size="22.8" font-weight="bold" text-anchor="start" fill="#1e1e1e" stroke="#fff" stroke-width="0.3">GLYCOLYSIS</text></g>
<rect x="969.0" y="2101.2" width="227.5" height="27.5" fill="#06aacd"/>
<g transform="translate(1210.7,2121.7) scale(0.985,1)"><text x="0.0" y="0.0" font-size="22.8" font-weight="bold" text-anchor="start" fill="#1e1e1e" stroke="#fff" stroke-width="0.3">IL2 STAT5 SIGNALING</text></g>
<rect x="982.0" y="2135.5" width="214.5" height="27.5" fill="#06aacd"/>
<g transform="translate(1210.7,2156.0) scale(0.985,1)"><text x="0.0" y="0.0" font-size="22.8" font-weight="bold" text-anchor="start" fill="#1e1e1e" stroke="#fff" stroke-width="0.3">ESTROGEN RESPONSE LATE</text></g>
<rect x="985.1" y="2169.8" width="211.4" height="27.5" fill="#06aacd"/>
<g transform="translate(1210.7,2190.2) scale(0.985,1)"><text x="0.0" y="0.0" font-size="22.8" font-weight="bold" text-anchor="start" fill="#1e1e1e" stroke="#fff" stroke-width="0.3">APOPTOSIS</text></g>
<rect x="986.8" y="2204.1" width="209.7" height="27.5" fill="#06aacd"/>
<g transform="translate(1210.7,2224.5) scale(0.985,1)"><text x="0.0" y="0.0" font-size="22.8" font-weight="bold" text-anchor="start" fill="#1e1e1e" stroke="#fff" stroke-width="0.3">ESTROGEN RESPONSE EARLY</text></g>
<rect x="997.0" y="2238.3" width="199.5" height="27.5" fill="#06aacd"/>
<g transform="translate(1210.7,2258.8) scale(0.985,1)"><text x="0.0" y="0.0" font-size="22.8" font-weight="bold" text-anchor="start" fill="#1e1e1e" stroke="#fff" stroke-width="0.3">ADIPOGENESIS</text></g>
<rect x="1196.5" y="2272.6" width="323.8" height="27.5" fill="#f28f85"/>
<g transform="translate(1189.5,2293.1) scale(0.985,1)"><text x="0.0" y="0.0" font-size="22.8" font-weight="bold" text-anchor="end" fill="#1e1e1e" stroke="#fff" stroke-width="0.3">MYC TARGETS V1</text></g>
<rect x="1196.5" y="2306.9" width="368.5" height="27.5" fill="#f28f85"/>
<g transform="translate(1189.5,2327.3) scale(0.985,1)"><text x="0.0" y="0.0" font-size="22.8" font-weight="bold" text-anchor="end" fill="#1e1e1e" stroke="#fff" stroke-width="0.3">MYC TARGETS V2</text></g>
<path d="M903.5,2347.2H1488.3M903.5,2345.4V2358.3M1049.7,2345.4V2358.3M1195.9,2345.4V2358.3M1342.1,2345.4V2358.3M1488.3,2345.4V2358.3" stroke="#1c1c1c" stroke-width="3.8" fill="none"/>
<text x="903.5" y="2384.9" font-size="18" text-anchor="middle" fill="#4d4d4d" >−2</text>
<text x="1049.7" y="2384.9" font-size="18" text-anchor="middle" fill="#4d4d4d" >−1</text>
<text x="1195.9" y="2384.9" font-size="18" text-anchor="middle" fill="#4d4d4d" >0</text>
<text x="1342.1" y="2384.9" font-size="18" text-anchor="middle" fill="#4d4d4d" >1</text>
<text x="1488.3" y="2384.9" font-size="18" text-anchor="middle" fill="#4d4d4d" >2</text>
<text x="1196.5" y="2414.5" font-size="22.3" text-anchor="middle" fill="#1e1e1e" >Normalized Enrichment Score</text>
<text x="1602.6" y="1926.4" font-size="20.8" font-weight="bold" text-anchor="start" fill="#1e1e1e" letter-spacing="0.8">STATUS</text>
<rect x="1603.7" y="1943.9" width="32.9" height="31.8" fill="#f28f85"/>
<rect x="1603.7" y="1979.5" width="32.9" height="32.9" fill="#06aacd"/>
<text x="1649.2" y="1965.8" font-size="18.6" text-anchor="start" fill="#1e1e1e" >Activated</text>
<text x="1649.2" y="2001.4" font-size="18.6" text-anchor="start" fill="#1e1e1e" >Suppressed</text>
</g>
</svg></body></html>
